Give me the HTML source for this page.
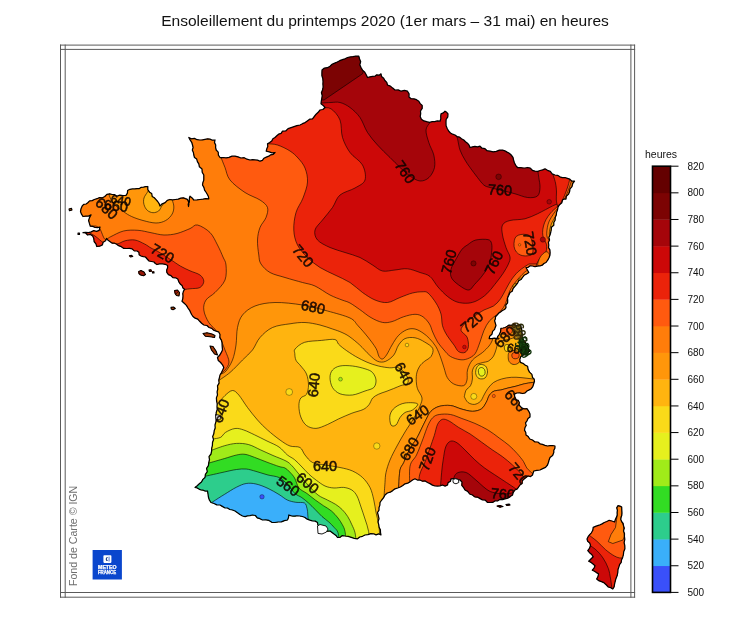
<!DOCTYPE html>
<html lang="fr"><head><meta charset="utf-8"><title>Ensoleillement du printemps 2020</title>
<style>
html,body{margin:0;padding:0;background:#fff;}
body{width:740px;height:618px;position:relative;overflow:hidden;font-family:"Liberation Sans",sans-serif;}
</style></head><body>
<svg width="740" height="618" viewBox="0 0 740 618" style="position:absolute;left:0;top:0">
<defs><clipPath id="fr"><path d="M80.5 211.6 L81.0 208.7 L82.2 206.0 L83.7 204.4 L86.1 204.0 L87.8 202.7 L89.6 200.9 L92.2 200.6 L94.3 199.5 L97.0 198.7 L99.5 197.6 L102.4 197.8 L104.8 196.5 L106.9 194.4 L109.7 193.8 L112.2 194.5 L114.8 194.7 L117.0 196.2 L119.9 195.2 L123.0 195.5 L126.0 195.4 L127.4 193.1 L127.6 190.5 L129.9 189.3 L132.4 188.9 L134.9 188.9 L137.1 188.6 L139.4 188.6 L141.3 187.3 L143.5 187.2 L145.6 186.6 L147.8 186.5 L147.8 189.6 L149.5 192.2 L151.7 193.5 L152.2 196.4 L154.3 197.8 L156.0 199.6 L157.7 201.5 L159.1 203.6 L160.0 206.0 L162.2 203.8 L165.2 202.6 L167.3 200.3 L169.9 199.5 L172.7 199.9 L175.4 199.5 L178.2 199.2 L180.8 198.1 L183.5 197.8 L185.4 198.6 L187.3 199.3 L188.5 201.6 L188.9 204.0 L188.5 206.5 L188.2 204.1 L189.4 201.9 L189.3 199.5 L189.5 197.8 L190.0 196.2 L192.1 197.9 L193.8 200.0 L196.9 199.9 L200.0 199.5 L202.9 199.2 L205.8 198.6 L208.8 198.8 L208.4 196.5 L207.4 194.5 L206.2 192.5 L204.6 190.2 L203.9 187.4 L202.5 185.0 L202.9 182.5 L203.8 180.1 L203.8 177.6 L203.8 175.0 L202.2 172.3 L202.0 169.0 L199.4 166.8 L198.8 163.8 L197.4 161.6 L196.7 159.1 L194.5 157.5 L193.8 155.0 L193.4 152.5 L192.3 150.1 L193.1 147.5 L192.5 145.0 L191.7 142.3 L190.1 139.9 L188.8 137.5 L191.4 138.8 L194.4 138.4 L197.1 139.7 L200.0 140.0 L202.5 139.8 L205.0 139.3 L207.5 138.8 L210.0 139.1 L212.4 140.2 L215.0 140.0 L214.5 142.6 L215.7 145.0 L215.6 147.5 L216.2 150.0 L218.2 152.1 L218.4 155.2 L220.0 157.5 L223.0 157.5 L226.1 157.9 L229.0 157.3 L232.0 156.1 L235.0 156.2 L238.0 156.8 L240.9 158.0 L244.2 157.7 L247.0 159.2 L250.0 160.0 L252.6 159.7 L255.1 159.9 L257.6 160.1 L260.0 161.2 L262.4 160.4 L264.0 158.2 L266.3 157.1 L268.8 156.2 L270.7 154.8 L273.3 154.3 L275.0 152.5 L272.0 152.8 L269.2 151.8 L266.2 151.2 L266.8 148.8 L267.8 146.4 L267.5 143.8 L269.7 142.6 L271.7 141.1 L272.9 138.8 L275.0 137.5 L276.8 135.8 L278.6 134.2 L281.1 133.3 L282.5 131.2 L285.7 131.0 L288.1 128.6 L291.1 127.6 L294.0 126.6 L296.9 125.6 L300.0 125.0 L302.5 123.7 L305.1 122.6 L307.3 120.9 L309.6 119.2 L312.5 118.8 L314.3 116.5 L316.1 114.2 L318.2 112.3 L320.0 110.0 L322.9 109.5 L325.0 107.5 L323.2 105.4 L321.0 103.8 L321.3 101.0 L321.8 98.3 L322.2 95.5 L321.4 92.7 L322.5 90.0 L323.1 87.1 L322.9 84.3 L323.0 81.4 L322.8 78.6 L321.9 75.7 L321.9 72.9 L322.0 70.0 L324.4 68.1 L327.4 67.7 L330.0 66.2 L332.1 64.3 L334.7 63.1 L337.3 62.0 L339.7 60.7 L342.4 59.7 L345.0 58.8 L347.6 57.5 L350.3 56.9 L353.1 56.6 L355.9 56.0 L358.8 56.2 L359.6 59.0 L360.7 61.7 L359.8 64.8 L361.0 67.5 L362.5 70.1 L364.8 72.2 L366.2 74.8 L367.5 77.5 L370.0 76.8 L372.5 76.4 L375.0 76.2 L376.7 74.8 L379.2 75.2 L381.0 73.8 L381.5 76.4 L383.7 78.2 L384.9 80.5 L386.8 82.4 L387.5 85.0 L390.4 86.1 L392.7 88.1 L395.0 90.0 L398.2 89.9 L401.2 91.2 L404.4 90.3 L407.5 91.2 L409.1 93.9 L409.0 97.0 L411.2 98.7 L414.0 98.8 L416.5 99.7 L418.8 101.2 L420.2 103.6 L422.2 105.4 L422.2 108.4 L420.5 111.0 L420.7 113.7 L420.2 116.6 L421.4 119.2 L423.9 120.9 L426.7 121.7 L429.5 122.4 L432.1 121.7 L434.7 121.6 L437.3 120.9 L440.0 121.2 L440.8 118.8 L440.7 116.3 L441.0 113.8 L443.3 112.9 L445.0 111.2 L446.7 112.3 L448.0 113.8 L447.8 116.8 L446.1 119.5 L446.0 122.5 L446.1 125.7 L447.2 128.5 L448.8 131.2 L450.5 133.0 L452.6 134.2 L455.0 135.0 L457.0 136.6 L459.6 137.1 L461.5 138.8 L463.8 140.0 L465.5 141.7 L467.5 143.2 L469.1 145.1 L470.0 147.5 L472.5 146.8 L474.9 146.4 L477.5 146.9 L480.0 146.2 L482.1 148.2 L485.0 148.7 L487.1 150.7 L490.0 151.2 L493.2 151.8 L496.3 151.4 L499.4 150.1 L502.5 150.0 L504.9 150.8 L507.1 152.1 L509.3 153.3 L511.2 155.0 L513.0 157.3 L513.6 160.1 L514.4 162.8 L515.7 165.3 L517.5 167.5 L520.0 167.5 L522.5 167.8 L525.0 168.0 L527.5 167.5 L530.3 168.1 L532.4 170.3 L535.0 171.2 L537.7 171.3 L540.1 170.5 L542.6 169.8 L545.0 168.8 L547.5 170.3 L550.3 171.4 L552.2 173.9 L555.0 175.0 L557.6 175.3 L559.9 176.8 L562.3 177.7 L565.0 177.5 L567.4 178.3 L569.8 179.2 L571.8 181.1 L574.5 181.2 L572.7 183.5 L572.0 186.6 L570.0 188.8 L569.6 191.6 L568.6 194.1 L566.3 196.2 L566.0 199.0 L564.1 199.0 L562.5 200.0 L561.8 202.8 L559.5 204.7 L558.0 207.1 L557.5 210.0 L556.5 212.4 L556.3 215.1 L555.2 217.5 L555.1 220.2 L553.8 222.5 L553.8 225.3 L551.4 227.3 L551.2 229.9 L550.7 232.5 L550.0 235.0 L548.9 237.4 L549.5 240.0 L548.4 242.4 L548.8 245.0 L548.5 247.6 L549.9 249.9 L550.1 252.4 L550.0 255.0 L549.0 257.7 L547.7 260.2 L546.0 262.5 L543.9 263.5 L542.2 265.2 L540.0 266.0 L537.5 266.1 L535.0 266.7 L532.5 266.0 L530.2 265.8 L528.2 267.3 L526.0 267.5 L527.4 270.0 L528.8 272.5 L526.6 274.0 L524.1 275.3 L522.5 277.5 L521.0 279.5 L518.7 280.8 L517.6 283.1 L516.0 285.0 L514.5 286.8 L513.0 288.7 L512.2 291.2 L510.0 292.5 L508.8 295.3 L507.5 298.0 L507.7 300.5 L507.6 302.9 L505.8 305.0 L506.0 307.5 L504.5 309.5 L502.4 310.5 L500.5 312.0 L498.6 313.3 L497.1 315.1 L495.5 316.8 L495.4 318.8 L494.6 320.7 L495.3 323.1 L496.0 325.5 L495.2 327.4 L494.6 329.4 L492.6 331.4 L491.9 334.3 L489.7 336.2 L489.2 338.6 L491.8 338.7 L494.4 338.1 L497.0 338.6 L497.8 336.3 L499.4 334.3 L500.6 331.5 L500.9 328.4 L503.1 328.0 L505.2 327.5 L507.2 326.3 L509.1 325.0 L511.6 325.3 L514.0 324.6 L516.2 325.5 L518.5 324.8 L520.8 325.0 L521.1 327.2 L521.7 329.4 L521.9 331.8 L522.2 334.2 L522.1 336.6 L522.7 339.0 L524.2 340.9 L525.6 343.0 L527.1 344.9 L528.5 346.9 L528.5 349.1 L530.0 350.8 L528.0 352.5 L526.6 354.7 L523.5 355.0 L520.8 356.6 L519.8 359.4 L520.3 362.4 L522.9 363.3 L525.1 365.1 L527.6 366.3 L528.1 369.4 L529.5 372.1 L531.9 374.4 L532.5 377.5 L534.1 378.9 L534.5 381.0 L533.7 383.8 L532.8 386.6 L531.3 388.7 L529.2 389.9 L527.0 391.0 L525.2 392.9 L522.7 393.5 L519.8 392.9 L516.8 393.0 L514.7 393.8 L514.5 396.1 L515.4 398.2 L516.4 399.9 L518.3 400.4 L519.3 402.5 L519.0 404.7 L520.6 406.8 L522.7 408.4 L524.8 408.8 L527.0 408.7 L528.8 411.3 L530.0 414.0 L530.0 417.0 L528.0 418.5 L527.0 420.8 L525.5 422.8 L526.2 425.4 L525.0 427.5 L524.5 430.1 L525.8 432.5 L526.0 435.0 L528.2 436.6 L529.8 439.0 L532.5 440.0 L534.7 441.8 L537.8 442.0 L540.0 443.8 L542.5 444.4 L545.0 445.3 L547.5 446.0 L550.0 445.7 L552.5 445.5 L555.0 446.0 L554.9 448.2 L553.8 450.3 L553.8 452.5 L552.6 455.5 L550.0 457.5 L549.1 460.0 L548.4 462.5 L547.5 465.0 L545.5 467.4 L542.7 468.6 L540.0 470.0 L536.8 470.3 L533.8 471.0 L533.1 473.0 L532.5 475.0 L530.6 476.6 L527.9 475.9 L526.0 477.5 L524.1 479.1 L522.3 480.7 L522.1 483.6 L520.0 485.0 L518.6 487.0 L517.3 488.9 L515.0 490.0 L513.3 492.3 L512.5 495.0 L510.2 496.6 L507.8 498.1 L505.0 498.8 L502.5 499.6 L499.8 499.5 L497.5 501.0 L494.9 500.9 L492.6 502.4 L490.0 502.5 L487.3 502.3 L485.2 500.1 L482.5 500.0 L480.1 498.6 L477.7 497.2 L474.7 496.9 L472.5 495.0 L469.6 494.0 L467.7 491.4 L465.0 490.0 L463.6 487.6 L461.8 485.3 L462.0 482.1 L460.0 480.0 L457.0 479.3 L454.1 478.6 L451.0 478.8 L450.5 481.2 L448.1 482.6 L447.5 485.0 L445.1 486.1 L442.4 485.0 L440.0 486.0 L437.5 486.1 L435.0 486.0 L432.4 485.1 L430.0 483.6 L427.5 482.5 L425.2 480.9 L422.4 481.2 L420.0 480.0 L417.3 480.0 L415.0 478.8 L412.5 480.0 L410.2 481.7 L407.8 483.1 L405.0 483.8 L402.8 485.5 L400.4 487.0 L397.7 488.0 L395.0 488.8 L392.7 490.6 L390.2 492.2 L387.3 493.0 L385.0 495.0 L383.6 497.7 L381.7 500.0 L380.0 502.5 L379.9 505.1 L379.0 507.6 L379.0 510.2 L377.5 512.5 L378.3 515.6 L379.0 518.7 L378.0 521.9 L378.8 525.0 L379.2 527.5 L380.4 529.9 L380.5 532.5 L381.0 535.0 L378.7 533.8 L376.0 534.9 L373.8 533.8 L370.8 533.6 L367.9 534.7 L365.0 535.0 L362.5 536.3 L359.7 537.0 L357.5 538.8 L354.3 538.3 L351.3 537.4 L348.2 536.4 L345.0 536.0 L342.3 535.6 L340.1 537.3 L337.5 537.5 L336.0 535.4 L334.0 534.0 L332.0 532.4 L330.0 531.0 L327.3 531.2 L324.7 531.3 L322.0 531.0 L320.2 529.3 L319.2 527.1 L317.9 525.0 L317.5 522.5 L315.2 521.1 L312.3 520.9 L309.8 520.1 L307.2 519.2 L305.0 517.5 L302.4 516.5 L299.7 516.0 L296.9 515.9 L294.1 516.2 L291.4 515.9 L288.8 515.0 L288.5 517.6 L287.5 520.0 L284.4 520.7 L281.4 521.9 L278.1 522.0 L275.0 522.5 L271.8 522.3 L268.9 520.4 L265.8 519.8 L262.5 520.0 L260.0 518.7 L257.3 517.9 L255.4 515.5 L252.5 515.0 L250.0 515.6 L247.5 515.8 L245.1 516.6 L242.5 516.0 L239.9 514.5 L237.5 512.7 L235.0 511.0 L232.5 510.0 L229.8 509.5 L227.5 508.0 L224.7 507.8 L222.3 506.4 L220.0 505.0 L216.8 504.9 L214.0 503.5 L211.0 502.5 L209.3 499.9 L208.4 497.0 L208.0 494.0 L207.5 491.0 L205.3 491.1 L203.2 490.2 L201.0 490.0 L199.0 489.1 L197.2 487.9 L195.0 487.5 L197.2 485.7 L199.3 483.8 L201.5 482.0 L202.9 479.4 L205.0 477.5 L205.4 474.4 L207.3 471.7 L206.6 468.3 L208.4 465.6 L208.8 462.5 L209.5 459.7 L209.0 456.6 L211.0 454.0 L211.6 451.2 L211.7 448.3 L212.4 445.4 L212.5 442.5 L213.5 439.7 L212.7 436.6 L213.8 433.8 L214.2 430.8 L215.2 428.0 L215.0 425.0 L215.9 421.9 L216.2 418.8 L216.1 415.6 L216.2 412.5 L217.2 409.6 L217.0 406.7 L217.2 403.8 L216.6 400.8 L216.4 397.9 L217.5 395.0 L217.1 391.9 L217.8 389.0 L217.5 385.9 L219.1 383.1 L218.8 380.0 L219.5 377.5 L220.0 375.0 L221.5 372.6 L222.7 370.1 L223.8 367.5 L222.5 364.8 L220.6 362.5 L218.3 360.5 L217.5 357.5 L219.6 355.3 L221.2 352.7 L222.5 350.0 L222.3 347.6 L222.1 345.1 L222.0 342.7 L221.5 340.3 L219.8 337.7 L220.0 334.5 L218.6 331.8 L216.1 331.1 L213.7 330.2 L211.8 328.4 L209.1 327.5 L206.9 325.5 L203.9 325.0 L201.6 323.3 L199.7 321.3 L197.8 319.2 L195.1 318.2 L193.0 316.5 L191.6 314.5 L190.5 312.3 L189.5 310.0 L188.0 308.0 L186.4 305.4 L184.2 303.3 L182.0 301.2 L182.8 298.6 L183.0 296.0 L182.8 293.6 L183.4 291.4 L184.6 289.3 L182.9 287.9 L182.1 285.6 L180.4 284.2 L178.8 281.8 L177.8 279.0 L175.6 277.8 L172.9 277.6 L171.0 275.7 L168.4 274.6 L166.8 272.3 L166.7 270.0 L167.6 267.8 L167.6 265.5 L165.2 264.3 L162.5 263.8 L159.7 263.8 L157.0 264.5 L155.3 263.5 L154.0 262.0 L151.5 261.5 L149.0 261.0 L147.2 259.0 L145.5 257.0 L143.2 256.6 L141.0 256.0 L139.1 254.8 L138.9 252.2 L137.0 251.0 L134.3 250.9 L132.1 248.9 L129.5 248.4 L126.8 248.5 L123.8 248.4 L121.3 246.7 L118.6 245.7 L116.7 244.3 L114.6 243.2 L112.2 243.2 L110.2 241.7 L108.1 240.3 L106.5 238.4 L105.6 240.8 L103.1 242.3 L102.4 244.9 L99.7 246.2 L96.8 246.5 L95.9 243.8 L94.1 241.5 L93.8 238.6 L92.7 236.0 L90.5 234.4 L87.6 235.0 L85.6 233.0 L83.0 232.7 L85.7 232.3 L88.5 232.6 L91.2 231.9 L93.7 230.6 L96.6 231.4 L99.2 230.3 L99.6 228.6 L100.0 227.0 L97.5 227.7 L95.1 227.5 L92.7 226.4 L90.3 226.2 L89.4 223.4 L88.6 220.5 L89.5 217.6 L91.0 214.9 L88.5 216.1 L85.7 216.2 L83.0 216.5 L81.5 214.2 Z M618.0 505.7 L620.0 506.1 L621.7 507.0 L621.8 510.0 L622.0 513.0 L621.8 515.2 L621.1 517.2 L620.8 519.4 L621.6 521.5 L623.1 523.3 L623.5 525.6 L624.3 528.2 L623.5 531.0 L624.5 533.6 L624.4 536.3 L624.8 539.4 L624.1 542.6 L624.8 545.7 L624.9 548.8 L623.7 551.7 L623.4 554.7 L622.6 557.7 L621.5 559.9 L621.2 562.3 L619.7 564.3 L619.0 566.6 L618.0 569.5 L617.8 572.5 L617.2 575.5 L616.0 578.4 L615.2 581.4 L614.5 584.4 L614.1 586.9 L612.8 589.0 L610.7 587.7 L608.3 587.0 L606.2 584.8 L603.9 582.7 L601.4 581.7 L598.8 580.7 L596.7 579.0 L598.0 576.5 L598.5 573.8 L596.4 572.6 L594.5 571.2 L592.3 570.2 L594.0 568.2 L595.0 565.7 L593.0 564.0 L591.1 562.4 L588.7 561.3 L590.9 559.0 L593.2 556.8 L591.7 554.5 L589.5 552.7 L587.8 550.6 L589.6 548.1 L590.5 545.2 L589.7 542.9 L587.7 541.3 L587.0 539.0 L588.1 536.7 L589.7 534.7 L591.4 532.8 L592.8 530.3 L593.2 527.4 L596.1 526.2 L599.1 525.2 L602.0 523.9 L604.3 522.5 L606.8 521.5 L609.2 520.3 L611.9 521.0 L614.6 522.0 L615.3 519.6 L616.4 517.4 L617.2 515.0 L617.1 512.6 L617.4 510.2 L616.7 507.8 Z M69.0 209.0 L71.5 208.3 L72.0 210.0 L69.5 210.8 Z M138.7 271.5 L141.0 270.6 L144.0 272.0 L145.5 274.5 L143.5 275.7 L140.5 275.0 L138.9 273.5 Z M129.4 255.8 L131.5 255.3 L132.8 256.5 L130.5 257.0 Z M149.0 270.0 L151.0 269.8 L151.5 271.2 L149.5 271.5 Z M152.5 271.8 L154.0 271.8 L154.0 273.0 L152.5 273.0 Z M174.6 290.5 L177.5 290.0 L179.5 292.5 L179.0 296.0 L176.5 295.5 L175.0 293.5 Z M171.0 307.2 L173.5 307.0 L175.3 308.5 L173.0 309.7 L171.2 309.0 Z M203.0 333.5 L207.0 332.7 L212.0 334.0 L215.0 335.5 L214.5 337.5 L210.0 336.8 L205.5 336.3 Z M210.0 346.0 L213.0 346.5 L216.0 351.0 L217.5 355.0 L214.5 354.0 L211.5 350.0 Z M78.0 233.0 L79.5 233.0 L79.5 234.5 L78.0 234.5 Z M497.0 506.0 L500.0 505.5 L503.0 506.5 L500.0 507.3 Z M506.0 504.5 L509.0 504.0 L510.0 505.0 L507.0 505.5 Z"/></clipPath></defs>
<g clip-path="url(#fr)" stroke="#000" stroke-opacity="0.85" stroke-width="0.7" stroke-linejoin="round">
<rect x="0" y="0" width="740" height="618" fill="rgb(204,8,8)" stroke="none"/>
<path d="M322.0 108.0 C323.5 108.1 328.0 106.8 331.0 108.8 C334.0 110.8 338.1 115.2 340.0 120.0 C341.9 124.8 340.8 132.1 342.5 137.5 C344.2 142.9 346.7 147.9 350.0 152.5 C353.3 157.1 360.0 160.4 362.5 165.0 C365.0 169.6 366.2 176.2 365.0 180.0 C363.8 183.8 359.2 185.5 355.0 188.0 C350.8 190.5 343.8 191.8 340.0 195.0 C336.2 198.2 335.4 203.3 332.5 207.5 C329.6 211.7 325.4 216.2 322.5 220.0 C319.6 223.8 315.8 226.7 315.0 230.0 C314.2 233.3 315.0 237.1 317.5 240.0 C320.0 242.9 325.4 245.4 330.0 247.5 C334.6 249.6 340.0 250.8 345.0 252.5 C350.0 254.2 355.4 255.4 360.0 257.5 C364.6 259.6 368.8 262.8 372.5 265.0 C376.2 267.2 378.8 270.2 382.5 271.0 C386.2 271.8 390.8 270.4 395.0 270.0 C399.2 269.6 403.3 268.3 407.5 268.8 C411.7 269.2 416.2 271.2 420.0 272.5 C423.8 273.8 427.0 274.1 430.0 276.5 C433.0 278.9 435.1 283.7 438.0 287.0 C440.9 290.3 444.4 294.0 447.6 296.5 C450.8 299.0 453.6 300.9 457.0 302.0 C460.4 303.1 464.4 303.4 467.8 303.2 C471.2 302.9 474.1 302.1 477.3 300.5 C480.5 298.9 483.9 296.5 486.8 293.8 C489.7 291.1 492.2 287.7 494.9 284.3 C497.6 280.9 500.8 276.9 503.0 273.5 C505.2 270.1 507.2 266.8 508.4 264.0 C509.6 261.2 510.4 259.8 510.0 257.0 C509.6 254.2 507.2 251.2 506.0 247.5 C504.8 243.8 503.1 238.8 502.5 235.0 C501.9 231.2 501.2 227.4 502.5 225.0 C503.8 222.6 506.2 221.5 510.0 220.5 C513.8 219.5 520.4 219.9 525.0 218.8 C529.6 217.6 532.9 215.9 537.5 213.8 C542.1 211.6 548.8 207.8 552.5 206.0 C556.2 204.2 558.8 203.5 560.0 203.0 L700.0 205.0 L700.0 680.0 L-20.0 680.0 L-20.0 104.0 L318.0 104.0 Z" fill="rgb(235,35,10)"/>
<path d="M268.0 143.8 C269.6 144.0 273.8 143.8 277.5 145.0 C281.2 146.2 286.6 148.8 290.0 151.0 C293.4 153.2 295.5 155.2 298.0 158.0 C300.5 160.8 303.4 164.0 305.0 168.0 C306.6 172.0 307.8 177.0 307.5 182.0 C307.2 187.0 304.9 192.9 303.0 198.0 C301.1 203.1 297.5 207.2 296.0 212.5 C294.5 217.8 293.5 224.6 293.8 230.0 C294.0 235.4 295.2 240.4 297.5 245.0 C299.8 249.6 303.8 253.8 307.5 257.5 C311.2 261.2 315.4 264.6 320.0 267.5 C324.6 270.4 330.0 272.5 335.0 275.0 C340.0 277.5 345.4 279.6 350.0 282.5 C354.6 285.4 358.3 289.6 362.5 292.5 C366.7 295.4 370.8 298.3 375.0 300.0 C379.2 301.7 383.3 302.9 387.5 302.5 C391.7 302.1 395.8 299.1 400.0 297.5 C404.2 295.9 408.8 293.9 412.5 293.0 C416.2 292.1 419.4 291.8 422.0 291.8 C424.6 291.8 425.7 291.1 428.0 293.0 C430.3 294.9 433.8 299.5 436.0 303.0 C438.2 306.5 439.9 310.2 441.0 314.0 C442.1 317.8 441.5 322.1 442.5 325.7 C443.5 329.3 445.1 332.2 447.0 335.4 C448.9 338.6 452.1 342.3 454.0 345.0 C455.9 347.7 456.8 350.4 458.6 351.6 C460.4 352.8 463.4 353.2 465.0 352.4 C466.6 351.6 468.1 349.3 468.4 346.7 C468.7 344.1 468.2 339.7 467.0 337.0 C465.8 334.3 461.3 332.6 461.0 330.3 C460.7 328.1 463.0 325.7 465.0 323.5 C467.0 321.3 470.0 319.2 473.2 317.0 C476.4 314.8 480.6 311.8 484.0 310.0 C487.4 308.2 490.8 307.8 493.5 306.0 C496.2 304.2 498.3 301.9 500.3 299.2 C502.3 296.5 503.9 292.8 505.7 289.7 C507.5 286.6 509.0 283.2 511.0 280.3 C513.0 277.4 515.5 274.2 517.8 272.0 C520.1 269.8 522.7 268.1 524.6 266.8 C526.5 265.5 528.3 264.5 529.0 264.0 L700.0 264.0 L700.0 680.0 L-20.0 680.0 L-20.0 143.0 L262.0 143.0 Z" fill="rgb(255,90,15)"/>
<path d="M221.0 157.5 C221.7 159.2 223.5 163.8 225.0 167.5 C226.5 171.2 226.7 175.8 230.0 180.0 C233.3 184.2 240.0 189.2 245.0 192.5 C250.0 195.8 256.2 197.5 260.0 200.0 C263.8 202.5 266.5 204.6 267.5 207.5 C268.5 210.4 267.2 214.2 266.0 217.5 C264.8 220.8 261.4 223.8 260.0 227.5 C258.6 231.2 257.7 235.4 257.5 240.0 C257.3 244.6 258.2 251.0 258.8 255.0 C259.3 259.0 259.1 261.1 261.0 264.0 C262.9 266.9 266.0 270.2 270.0 272.5 C274.0 274.8 279.6 275.8 285.0 277.5 C290.4 279.2 297.5 281.1 302.5 282.5 C307.5 283.9 310.4 283.9 315.0 286.0 C319.6 288.1 325.5 292.7 330.0 295.0 C334.5 297.3 338.7 298.7 342.0 300.0 C345.3 301.3 347.1 301.4 350.0 303.0 C352.9 304.6 356.2 307.1 359.7 309.5 C363.2 311.9 367.2 315.5 371.0 317.6 C374.8 319.8 378.9 321.7 382.4 322.4 C385.9 323.1 388.5 322.5 392.0 321.6 C395.5 320.7 399.7 318.0 403.5 316.8 C407.3 315.6 411.8 314.3 415.0 314.3 C418.2 314.3 420.6 315.2 423.0 316.8 C425.4 318.4 427.9 321.5 429.5 324.0 C431.1 326.5 431.3 329.0 432.7 332.0 C434.1 335.0 435.7 339.0 437.6 342.0 C439.5 345.0 441.9 347.6 444.0 350.0 C446.1 352.4 447.8 354.9 450.5 356.5 C453.2 358.1 457.2 359.3 460.0 359.7 C462.8 360.1 465.0 359.7 467.5 358.8 C470.0 357.8 472.9 356.5 475.0 353.8 C477.1 351.0 478.5 345.9 480.0 342.0 C481.5 338.1 482.4 333.8 484.0 330.3 C485.6 326.8 487.2 323.5 489.5 320.8 C491.8 318.1 495.2 316.2 497.6 314.0 C500.0 311.8 502.0 309.8 503.6 307.3 C505.2 304.8 506.0 301.9 507.0 299.2 C508.0 296.5 508.6 293.5 509.7 291.0 C510.8 288.5 512.2 286.5 513.8 284.3 C515.4 282.1 517.4 279.6 519.2 277.6 C521.0 275.6 523.0 273.6 524.6 272.2 C526.2 270.8 527.2 270.4 528.6 269.5 C530.0 268.6 532.3 267.4 533.0 267.0 L700.0 267.0 L700.0 680.0 L-20.0 680.0 L-20.0 100.0 L225.0 100.0 L225.0 150.0 Z" fill="rgb(255,125,10)"/>
<path d="M221.0 374.0 C221.8 373.5 224.1 373.3 226.0 371.0 C227.9 368.7 230.8 364.3 232.5 360.0 C234.2 355.7 235.2 350.4 236.0 345.0 C236.8 339.6 236.4 332.5 237.5 327.5 C238.6 322.5 239.6 318.6 242.5 315.0 C245.4 311.4 249.6 308.1 255.0 306.0 C260.4 303.9 267.1 302.7 275.0 302.5 C282.9 302.3 293.8 303.6 302.5 305.0 C311.2 306.4 319.6 308.8 327.5 311.0 C335.4 313.2 344.9 315.6 350.0 318.0 C355.1 320.4 355.0 322.5 358.0 325.7 C361.0 328.9 364.8 333.2 367.8 337.0 C370.8 340.8 374.1 345.1 376.0 348.4 C377.9 351.6 377.9 354.7 379.0 356.5 C380.1 358.3 381.1 359.2 382.4 359.0 C383.6 358.8 384.9 357.3 386.5 355.0 C388.1 352.7 390.0 348.3 392.0 345.0 C394.0 341.7 396.1 337.9 398.6 335.4 C401.1 332.8 404.1 330.8 406.8 329.7 C409.5 328.6 412.3 328.4 415.0 329.0 C417.7 329.6 420.6 331.4 423.0 333.0 C425.4 334.6 427.3 336.3 429.5 338.6 C431.7 340.9 434.1 343.6 436.0 346.8 C437.9 350.0 439.5 354.5 440.8 358.0 C442.1 361.5 442.9 364.5 444.0 367.8 C445.1 371.1 445.7 374.9 447.3 377.6 C448.9 380.3 451.1 382.6 453.8 384.0 C456.5 385.4 461.3 386.4 463.5 385.7 C465.7 385.0 466.3 382.6 467.0 380.0 C467.7 377.4 466.6 373.3 467.5 370.0 C468.4 366.7 470.0 362.9 472.5 360.0 C475.0 357.1 479.8 354.8 482.5 352.5 C485.2 350.2 487.4 347.9 489.0 346.0 C490.6 344.1 491.3 342.4 492.0 341.0 C492.7 339.6 492.8 338.1 493.0 337.5 L495.5 333.0 L497.5 326.0 L499.0 318.0 L700.0 318.0 L700.0 381.5 L540.0 381.5 C538.7 381.7 535.0 382.1 532.4 382.5 C529.8 382.9 527.0 383.2 524.3 383.8 C521.6 384.4 518.7 385.5 516.0 386.2 C513.3 386.9 510.5 387.4 508.0 388.0 C505.5 388.6 503.1 389.5 500.8 390.0 C498.5 390.5 496.2 390.2 494.3 391.0 C492.4 391.8 490.9 393.1 489.5 395.0 C488.1 396.9 487.6 400.1 486.2 402.4 C484.8 404.7 483.7 407.4 481.4 408.9 C479.1 410.4 475.8 411.3 472.4 411.3 C469.0 411.3 464.6 409.9 461.0 408.9 C457.4 407.9 454.1 405.9 450.5 405.5 C446.9 405.1 442.4 405.4 439.2 406.4 C435.9 407.3 433.2 409.0 431.0 411.2 C428.8 413.4 427.8 416.3 426.2 419.3 C424.6 422.3 423.0 425.8 421.4 429.0 C419.8 432.2 418.4 435.6 416.5 438.8 C414.6 442.1 412.1 444.6 410.0 448.5 C407.9 452.4 405.4 458.9 403.8 462.5 C402.1 466.1 400.8 466.2 400.0 470.0 C399.2 473.8 399.1 480.8 398.8 485.0 C398.4 489.2 398.1 493.3 398.0 495.0 L398 680 L-20 680 L-20 374 Z" fill="rgb(255,150,10)"/>
<path d="M218.0 381.0 C220.0 379.6 225.9 376.0 230.0 372.5 C234.1 369.0 238.8 363.8 242.5 360.0 C246.2 356.2 249.6 353.8 252.5 350.0 C255.4 346.2 256.7 341.2 260.0 337.5 C263.3 333.8 267.5 329.8 272.5 327.5 C277.5 325.2 284.6 324.6 290.0 323.8 C295.4 322.9 300.0 322.3 305.0 322.5 C310.0 322.7 315.4 323.9 320.0 325.0 C324.6 326.1 328.8 327.8 332.5 329.0 C336.2 330.2 339.1 331.2 342.0 332.5 C344.9 333.8 347.1 334.9 350.0 337.0 C352.9 339.1 356.4 342.0 359.7 345.0 C362.9 348.0 366.5 352.3 369.5 355.0 C372.5 357.7 374.9 360.2 377.6 361.3 C380.3 362.4 383.0 362.4 385.7 361.3 C388.4 360.2 391.6 357.7 393.8 355.0 C396.0 352.3 396.7 347.7 398.6 345.0 C400.5 342.3 402.3 339.8 405.0 338.6 C407.7 337.4 411.7 337.2 415.0 337.8 C418.3 338.4 421.7 340.2 424.6 342.0 C427.6 343.8 431.6 346.0 432.7 348.4 C433.8 350.8 432.4 354.4 431.0 356.5 C429.6 358.6 426.5 359.7 424.6 361.3 C422.7 362.9 421.1 364.0 419.7 366.2 C418.3 368.4 417.0 371.3 416.5 374.3 C416.0 377.3 416.2 381.4 416.5 384.0 C416.8 386.6 417.1 387.7 418.0 390.0 C418.9 392.3 421.7 395.3 422.0 398.0 C422.3 400.7 421.3 402.7 420.0 406.0 C418.7 409.3 416.5 413.7 414.0 418.0 C411.5 422.3 407.8 427.3 405.0 432.0 C402.2 436.7 399.5 441.3 397.0 446.0 C394.5 450.7 391.8 455.6 390.0 460.0 C388.2 464.4 386.8 468.8 386.0 472.5 C385.2 476.2 385.3 478.4 385.0 482.5 C384.7 486.6 384.2 494.6 384.0 497.0 L384.0 680.0 L-20.0 680.0 L-20.0 381.0 Z" fill="rgb(255,180,15)"/>
<path d="M464.3 396.8 C464.6 395.7 465.0 392.2 466.0 390.3 C467.0 388.4 469.4 387.6 470.5 385.7 C471.6 383.8 472.1 381.5 472.4 379.0 C472.7 376.5 471.8 373.1 472.4 370.8 C472.9 368.5 474.1 366.4 475.7 365.0 C477.3 363.6 480.0 363.4 482.2 362.7 C484.4 362.0 486.7 362.1 488.6 361.0 C490.5 359.9 492.3 358.1 493.5 356.2 C494.7 354.3 495.2 351.8 496.0 349.7 C496.8 347.6 496.8 345.0 498.0 343.5 C499.2 342.0 501.0 341.2 503.0 340.5 C505.0 339.8 507.8 339.6 510.0 339.0 C512.2 338.4 513.7 337.7 516.0 337.0 C518.3 336.3 522.7 335.3 524.0 335.0 L560 335 L560 380 L545.0 380.0 C543.0 379.8 537.2 379.4 533.2 379.0 C529.2 378.6 524.6 377.9 521.0 377.6 C517.4 377.3 514.6 377.1 511.4 377.3 C508.2 377.5 504.6 378.1 501.6 379.0 C498.6 379.9 495.8 380.9 493.5 382.5 C491.2 384.1 489.4 386.5 487.8 388.6 C486.2 390.7 485.2 392.9 484.0 395.0 C482.8 397.1 482.1 399.7 480.5 401.3 C478.9 402.9 476.5 404.2 474.4 404.4 C472.3 404.6 469.6 403.7 467.9 402.4 C466.2 401.1 464.9 397.7 464.3 396.8 Z" fill="rgb(255,180,15)"/>
<path d="M295.1 349.0 C296.7 347.1 300.2 343.7 304.6 342.3 C309.0 340.9 316.6 340.9 321.6 340.4 C326.7 339.9 332.1 338.9 334.9 339.5 C337.7 340.1 337.0 342.6 338.6 344.2 C340.2 345.8 341.5 346.9 344.3 349.0 C347.1 351.1 351.9 354.3 355.7 356.5 C359.5 358.7 363.2 360.6 367.0 362.2 C370.8 363.8 374.6 365.1 378.4 366.0 C382.2 366.9 386.5 367.6 389.7 367.8 C392.9 368.1 394.9 366.8 397.3 367.5 C399.7 368.2 402.2 370.1 404.0 372.0 C405.8 373.9 407.5 377.0 408.0 379.0 C408.5 381.0 408.2 382.9 407.0 384.0 C405.8 385.1 403.2 384.7 401.0 385.5 C398.8 386.3 396.0 387.6 393.5 388.6 C391.0 389.6 388.5 390.6 386.0 391.5 C383.5 392.4 380.6 393.2 378.4 394.3 C376.2 395.4 374.3 396.3 372.7 398.0 C371.1 399.7 370.6 402.8 369.0 404.7 C367.4 406.6 366.1 408.1 363.2 409.5 C360.3 410.9 356.0 411.6 351.9 413.2 C347.8 414.8 342.7 417.0 338.6 418.9 C334.5 420.8 331.1 423.0 327.3 424.6 C323.5 426.2 319.5 428.2 316.0 428.4 C312.5 428.5 309.0 427.4 306.5 425.5 C304.0 423.6 302.1 420.3 300.8 417.0 C299.5 413.7 298.9 408.9 298.9 405.7 C298.9 402.5 299.5 399.9 300.8 398.0 C302.1 396.1 305.2 396.5 306.5 394.3 C307.8 392.1 308.5 388.4 308.5 385.0 C308.5 381.6 307.8 377.2 306.5 374.0 C305.2 370.8 302.6 368.3 300.8 366.0 C299.1 363.7 297.0 362.4 296.0 360.3 C295.0 358.2 294.9 355.5 294.8 353.6 C294.7 351.7 293.5 350.9 295.1 349.0 Z" fill="rgb(250,218,25)"/>
<path d="M330.0 377.5 C330.0 374.6 330.8 371.9 332.5 370.0 C334.2 368.1 336.7 366.7 340.0 366.0 C343.3 365.3 348.3 365.5 352.5 366.0 C356.7 366.5 361.7 367.7 365.0 368.8 C368.3 369.8 370.7 370.6 372.5 372.5 C374.3 374.4 375.8 377.5 376.0 380.0 C376.2 382.5 375.6 385.7 373.8 387.5 C371.9 389.3 368.5 389.8 365.0 391.0 C361.5 392.2 356.7 394.5 352.5 395.0 C348.3 395.5 343.3 395.0 340.0 393.8 C336.7 392.5 334.2 390.2 332.5 387.5 C330.8 384.8 330.0 380.4 330.0 377.5 Z" fill="rgb(230,240,30)"/>
<path d="M499.9 329.4 C500.2 328.4 500.8 327.1 502.3 326.5 C503.8 325.9 507.5 325.3 509.1 325.5 C510.7 325.7 511.5 326.4 512.0 327.5 C512.5 328.6 512.6 331.0 512.0 332.3 C511.4 333.6 509.6 334.9 508.2 335.2 C506.8 335.5 504.6 334.8 503.3 334.3 C502.0 333.8 501.0 333.1 500.4 332.3 C499.8 331.5 499.6 330.4 499.9 329.4 Z" fill="rgb(255,90,15)"/>
<path d="M508.2 356.6 C508.2 358.1 508.3 360.2 509.1 361.5 C509.9 362.8 511.5 364.1 513.0 364.4 C514.5 364.7 516.5 364.4 517.9 363.4 C519.3 362.4 521.0 360.3 521.5 358.5 C522.0 356.7 522.4 353.8 521.0 352.5 C519.6 351.2 515.0 350.5 513.0 350.5 C511.0 350.5 509.8 351.5 509.0 352.5 C508.2 353.5 508.2 355.1 508.2 356.6 Z" fill="rgb(255,125,10)"/>
<path d="M512.0 354.0 C512.5 353.1 513.9 352.4 515.0 352.3 C516.1 352.2 518.2 352.6 518.8 353.5 C519.4 354.4 519.1 356.6 518.5 357.5 C517.9 358.4 516.0 358.8 515.0 358.8 C514.0 358.8 512.8 358.3 512.3 357.5 C511.8 356.7 511.6 354.9 512.0 354.0 Z" fill="rgb(255,90,15)"/>
<path d="M391.0 425.0 C390.0 423.3 389.3 417.9 390.0 415.0 C390.7 412.1 392.5 409.5 395.0 407.5 C397.5 405.5 401.2 403.6 405.0 403.0 C408.8 402.4 416.2 402.6 417.5 403.8 C418.8 404.9 414.6 408.5 412.5 410.0 C410.4 411.5 407.1 411.2 405.0 412.5 C402.9 413.8 401.5 415.4 400.0 417.5 C398.5 419.6 397.5 423.8 396.0 425.0 C394.5 426.2 392.0 426.7 391.0 425.0 Z" fill="rgb(250,218,25)"/>
<path d="M476.5 368.0 C477.2 366.4 478.5 364.8 480.0 364.5 C481.5 364.2 484.2 364.8 485.5 366.0 C486.8 367.2 487.6 370.0 487.5 372.0 C487.4 374.0 486.4 376.9 485.0 378.0 C483.6 379.1 480.5 379.2 479.0 378.5 C477.5 377.8 476.2 375.8 475.8 374.0 C475.4 372.2 475.8 369.6 476.5 368.0 Z" fill="rgb(250,218,25)"/>
<path d="M478.5 369.5 C478.9 368.2 480.5 367.5 481.5 367.5 C482.5 367.5 483.9 368.5 484.5 369.5 C485.1 370.5 485.3 372.4 485.0 373.5 C484.7 374.6 483.4 375.8 482.5 376.0 C481.6 376.2 480.0 376.1 479.3 375.0 C478.6 373.9 478.1 370.8 478.5 369.5 Z" fill="rgb(230,240,30)"/>
<path d="M504.5 346.0 C504.9 345.1 506.1 344.5 507.0 344.5 C507.9 344.5 509.5 345.1 510.0 346.0 C510.5 346.9 510.5 349.1 510.0 350.0 C509.5 350.9 507.9 351.5 507.0 351.5 C506.1 351.5 505.2 350.9 504.8 350.0 C504.4 349.1 504.1 346.9 504.5 346.0 Z" fill="rgb(250,218,25)"/>
<path d="M214.0 407.0 C214.7 406.4 216.2 405.4 218.0 403.5 C219.8 401.6 222.6 397.7 225.0 395.5 C227.4 393.3 230.2 390.6 232.5 390.5 C234.8 390.4 236.2 392.2 238.8 395.0 C241.2 397.8 244.4 403.3 247.5 407.5 C250.6 411.7 254.2 416.2 257.5 420.0 C260.8 423.8 263.8 426.7 267.5 430.0 C271.2 433.3 276.2 437.3 280.0 440.0 C283.8 442.7 286.7 444.8 290.0 446.0 C293.3 447.2 297.5 446.0 300.0 447.5 C302.5 449.0 302.9 452.5 305.0 455.0 C307.1 457.5 309.2 460.8 312.5 462.5 C315.8 464.2 320.4 464.2 325.0 465.0 C329.6 465.8 335.4 466.5 340.0 467.5 C344.6 468.5 348.8 469.3 352.5 471.0 C356.2 472.7 359.6 474.8 362.5 477.5 C365.4 480.2 368.1 483.8 370.0 487.5 C371.9 491.2 372.8 495.8 373.8 500.0 C374.8 504.2 375.2 508.3 376.0 512.5 C376.8 516.7 378.1 520.4 378.8 525.0 C379.4 529.6 379.8 537.5 380.0 540.0 L380.0 680.0 L-20.0 680.0 L-20.0 407.0 Z" fill="rgb(250,218,25)"/>
<path d="M213.0 439.0 C214.3 438.7 218.6 438.4 220.7 437.3 C222.8 436.2 223.1 433.9 225.5 432.4 C227.9 430.9 231.9 428.9 235.0 428.5 C238.1 428.1 240.5 428.9 243.8 430.0 C247.1 431.1 250.8 433.1 254.7 434.9 C258.6 436.7 262.9 439.0 267.0 441.0 C271.1 443.0 275.6 444.7 279.0 447.0 C282.4 449.3 284.7 452.8 287.3 454.9 C289.9 457.0 292.2 457.7 294.6 459.7 C297.1 461.7 299.6 464.6 302.0 467.0 C304.4 469.4 306.6 472.1 309.0 474.3 C311.4 476.5 313.8 478.4 316.5 480.4 C319.2 482.3 322.1 484.7 325.0 486.0 C327.9 487.3 330.9 487.8 334.0 488.0 C337.1 488.2 340.6 487.1 343.6 487.4 C346.6 487.7 349.6 488.6 351.8 490.0 C354.0 491.4 355.5 493.2 357.0 496.0 C358.5 498.8 359.7 503.2 361.0 507.0 C362.3 510.8 363.7 514.9 365.0 519.0 C366.3 523.1 367.9 527.1 368.6 531.4 C369.4 535.7 369.4 542.7 369.5 545.0 L369.0 680.0 L-20.0 680.0 L-20.0 439.0 Z" fill="rgb(230,240,30)"/>
<path d="M211.0 450.5 C213.2 449.7 220.1 447.0 224.3 445.8 C228.6 444.6 232.4 443.6 236.5 443.4 C240.6 443.2 244.6 443.5 248.7 444.6 C252.8 445.7 256.8 448.2 260.8 450.0 C264.9 451.8 268.8 453.7 273.0 455.5 C277.2 457.3 282.8 459.3 286.0 461.0 C289.2 462.7 290.0 463.8 292.0 465.8 C294.0 467.8 295.3 469.8 298.0 473.0 C300.7 476.2 304.7 481.3 308.0 485.0 C311.3 488.7 314.8 492.5 318.0 495.0 C321.2 497.5 324.5 498.4 327.4 500.0 C330.3 501.6 333.0 502.7 335.5 504.3 C338.0 505.9 340.3 507.7 342.3 509.7 C344.3 511.7 346.1 514.0 347.7 516.5 C349.3 519.0 350.6 521.9 351.8 524.6 C353.0 527.3 354.2 529.3 355.0 532.7 C355.8 536.1 356.2 543.0 356.5 545.0 L356.0 680.0 L-20.0 680.0 L-20.0 450.0 Z" fill="rgb(160,235,25)"/>
<path d="M209.0 463.0 C211.6 462.3 219.7 459.9 224.3 458.6 C228.9 457.3 233.1 455.7 236.5 455.0 C239.9 454.3 242.0 453.9 245.0 454.3 C248.0 454.7 251.0 456.1 254.7 457.4 C258.4 458.7 262.9 460.7 267.0 462.2 C271.1 463.7 276.0 465.5 279.0 466.5 C282.0 467.5 283.2 467.1 285.0 468.0 C286.8 468.9 288.1 470.3 289.7 472.0 C291.3 473.7 293.1 475.3 294.6 478.0 C296.2 480.7 296.9 485.4 299.0 488.0 C301.1 490.6 304.3 491.5 307.0 493.5 C309.7 495.5 312.6 498.0 315.3 500.0 C318.0 502.0 320.7 503.9 323.4 505.7 C326.1 507.5 329.1 508.9 331.5 511.0 C333.9 513.0 336.2 515.7 338.0 518.0 C339.8 520.3 341.1 522.4 342.3 524.6 C343.5 526.8 344.3 528.0 345.0 531.4 C345.7 534.8 346.2 542.7 346.4 545.0 L346.0 680.0 L-20.0 680.0 L-20.0 463.0 Z" fill="rgb(50,220,35)"/>
<path d="M204.0 476.5 C207.4 475.8 218.9 473.2 224.3 472.0 C229.7 470.8 232.8 470.0 236.5 469.5 C240.2 469.0 242.9 468.7 246.2 469.0 C249.4 469.3 252.4 470.4 256.0 471.4 C259.6 472.4 264.2 474.0 268.0 475.0 C271.8 476.0 275.8 476.0 279.0 477.5 C282.2 479.0 284.3 481.3 287.0 484.0 C289.7 486.7 292.5 491.2 295.0 493.5 C297.5 495.8 299.6 496.0 301.8 497.6 C304.1 499.2 306.2 501.0 308.5 503.0 C310.8 505.0 313.1 507.4 315.3 509.7 C317.6 511.9 319.8 514.5 322.0 516.5 C324.2 518.5 326.8 520.2 328.8 522.0 C330.8 523.8 332.5 525.5 334.0 527.3 C335.5 529.1 337.1 529.8 338.0 532.7 C338.9 535.7 339.3 543.0 339.6 545.0 L339.0 680.0 L-20.0 680.0 L-20.0 476.0 Z" fill="rgb(45,205,140)"/>
<path d="M205.0 507.0 C206.3 506.1 209.6 503.9 212.8 501.8 C216.0 499.7 220.4 496.9 224.3 494.5 C228.2 492.1 232.8 489.0 236.5 487.2 C240.2 485.4 242.9 484.0 246.2 483.5 C249.4 483.0 252.4 483.2 256.0 484.0 C259.6 484.8 264.2 486.6 268.0 488.4 C271.8 490.1 275.8 492.6 279.0 494.5 C282.2 496.4 284.5 498.7 287.3 500.0 C290.1 501.3 292.9 501.8 295.8 502.3 C298.7 502.8 302.6 502.0 304.5 503.0 C306.4 504.0 306.4 506.4 307.0 508.4 C307.6 510.4 307.6 512.1 307.8 515.0 C308.1 517.9 308.4 524.2 308.5 526.0 L308.0 600.0 L200.0 600.0 Z" fill="rgb(58,175,250)"/>
<path d="M540.0 381.5 C538.7 381.7 535.0 382.1 532.4 382.5 C529.8 382.9 527.0 383.2 524.3 383.8 C521.6 384.4 518.7 385.5 516.0 386.2 C513.3 386.9 510.5 387.4 508.0 388.0 C505.5 388.6 503.1 389.5 500.8 390.0 C498.5 390.5 496.2 390.2 494.3 391.0 C492.4 391.8 490.9 393.1 489.5 395.0 C488.1 396.9 487.6 400.1 486.2 402.4 C484.8 404.7 483.7 407.4 481.4 408.9 C479.1 410.4 475.8 411.3 472.4 411.3 C469.0 411.3 464.6 409.9 461.0 408.9 C457.4 407.9 454.1 405.9 450.5 405.5 C446.9 405.1 442.4 405.4 439.2 406.4 C435.9 407.3 433.2 409.0 431.0 411.2 C428.8 413.4 427.8 416.3 426.2 419.3 C424.6 422.3 423.0 425.8 421.4 429.0 C419.8 432.2 418.4 435.6 416.5 438.8 C414.6 442.1 412.1 444.6 410.0 448.5 C407.9 452.4 405.4 458.9 403.8 462.5 C402.1 466.1 400.8 466.2 400.0 470.0 C399.2 473.8 399.1 480.8 398.8 485.0 C398.4 489.2 398.1 493.3 398.0 495.0 L398 680 L700 680 L700 381.5 Z" fill="rgb(255,125,10)"/>
<path d="M410.0 490.0 C410.0 486.1 408.9 472.1 410.0 466.3 C411.1 460.5 414.3 459.6 416.5 455.0 C418.7 450.4 421.1 443.7 423.0 438.8 C424.9 433.9 426.2 429.3 427.8 425.8 C429.4 422.3 430.8 419.6 432.7 417.7 C434.6 415.8 436.2 415.0 439.2 414.5 C442.2 414.0 446.7 413.8 450.5 414.5 C454.3 415.2 457.8 417.0 461.9 418.5 C466.0 420.0 470.6 421.5 474.9 423.4 C479.2 425.3 483.8 427.5 487.8 429.9 C491.9 432.3 495.7 435.4 499.2 438.0 C502.7 440.6 505.9 442.7 508.9 445.3 C511.9 447.9 514.6 450.7 517.0 453.4 C519.4 456.1 521.9 459.1 523.5 461.5 C525.1 463.9 525.2 465.9 526.8 468.0 C528.4 470.1 532.0 473.0 533.0 474.0 L540.0 560.0 L410.0 560.0 Z" fill="rgb(255,90,15)"/>
<path d="M418.0 490.0 C418.3 487.4 418.6 479.0 419.7 474.5 C420.8 470.0 422.9 467.5 424.6 463.1 C426.3 458.7 428.4 452.6 430.0 448.0 C431.6 443.4 433.0 439.5 434.3 435.5 C435.6 431.5 436.2 426.9 437.6 424.2 C439.0 421.5 440.5 419.9 442.4 419.3 C444.3 418.8 446.2 419.5 448.9 420.9 C451.6 422.2 455.1 425.2 458.6 427.4 C462.1 429.6 466.2 431.5 470.0 433.9 C473.8 436.3 477.6 439.3 481.4 442.0 C485.2 444.7 489.2 447.7 492.7 450.1 C496.2 452.5 499.1 454.2 502.4 456.6 C505.6 459.0 509.2 462.0 512.2 464.7 C515.2 467.4 518.0 470.2 520.3 472.8 C522.6 475.4 525.0 478.8 526.0 480.0 L530.0 560.0 L418.0 560.0 Z" fill="rgb(235,35,10)"/>
<path d="M440.0 492.0 C440.3 488.8 441.1 478.2 441.6 472.8 C442.1 467.4 442.5 464.2 443.2 459.9 C443.9 455.6 444.5 450.0 445.7 446.9 C446.9 443.8 448.6 441.9 450.5 441.2 C452.4 440.5 454.6 441.3 457.0 442.8 C459.4 444.3 462.1 447.2 465.1 450.1 C468.1 453.0 471.6 456.9 474.9 459.9 C478.1 462.9 481.4 465.6 484.6 468.0 C487.8 470.4 491.1 472.4 494.3 474.5 C497.5 476.6 500.8 478.8 504.0 480.9 C507.2 483.0 511.1 485.5 513.8 487.4 C516.5 489.2 519.0 491.2 520.0 492.0 L520.0 560.0 L440.0 560.0 Z" fill="rgb(204,8,8)"/>
<path d="M452.0 487.0 C452.2 486.0 452.4 483.1 453.0 481.0 C453.6 478.9 454.2 476.0 455.4 474.5 C456.6 473.0 458.4 472.3 460.3 472.0 C462.2 471.7 464.7 471.9 466.8 472.8 C468.9 473.8 471.1 475.9 473.2 477.7 C475.3 479.5 477.5 481.5 479.7 483.4 C481.9 485.3 484.0 487.5 486.2 489.0 C488.4 490.5 489.6 491.5 492.7 492.3 C495.8 493.1 501.1 494.1 505.0 494.0 C508.9 493.9 514.2 492.3 516.0 492.0 L516.0 560.0 L452.0 560.0 Z" fill="rgb(165,5,10)"/>
<path d="M96.0 226.0 C96.7 226.5 98.5 226.8 100.0 229.0 C101.5 231.2 103.2 237.9 104.9 239.2 C106.7 240.5 107.4 238.2 110.5 236.8 C113.6 235.4 118.9 232.1 123.5 231.0 C128.1 229.9 133.4 230.0 138.0 230.3 C142.6 230.6 146.7 231.9 151.0 232.7 C155.3 233.5 159.7 234.9 164.0 235.0 C168.3 235.1 172.7 234.6 177.0 233.5 C181.3 232.4 186.6 230.0 190.0 228.6 C193.4 227.2 194.2 224.3 197.5 225.0 C200.8 225.7 206.7 229.2 210.0 232.5 C213.3 235.8 215.3 240.9 217.5 245.0 C219.7 249.1 221.6 253.7 223.0 257.0 C224.4 260.3 225.7 261.2 226.0 265.0 C226.3 268.8 226.8 275.4 225.0 280.0 C223.2 284.6 218.2 289.2 215.0 292.5 C211.8 295.8 207.9 297.1 206.0 300.0 C204.1 302.9 203.3 306.2 203.8 310.0 C204.2 313.8 206.5 318.8 208.8 322.5 C211.0 326.2 214.8 327.9 217.5 332.5 C220.2 337.1 223.1 345.1 225.0 350.0 C226.9 354.9 229.0 358.7 229.0 362.0 C229.0 365.3 226.5 368.0 225.0 370.0 C223.5 372.0 220.8 373.3 220.0 374.0 L100.0 400.0 L60.0 400.0 L60.0 226.0 Z" fill="rgb(255,90,15)"/>
<path d="M88.0 232.0 C89.2 232.7 92.3 234.2 95.0 236.0 C97.7 237.8 101.5 241.9 104.0 243.0 C106.5 244.1 107.8 242.3 110.0 242.5 C112.2 242.7 114.5 244.3 117.0 244.0 C119.5 243.7 122.0 241.5 125.0 240.8 C128.0 240.1 131.6 239.5 134.9 240.0 C138.2 240.5 141.9 242.7 144.6 244.0 C147.3 245.3 148.8 246.8 151.0 248.0 C153.2 249.2 154.3 249.4 157.6 251.3 C160.8 253.2 166.7 257.1 170.5 259.5 C174.3 261.9 177.1 264.1 180.3 266.0 C183.6 267.9 186.7 269.3 190.0 270.8 C193.3 272.3 197.7 273.3 200.0 275.0 C202.3 276.7 203.8 279.2 203.8 281.2 C203.8 283.3 202.3 286.2 200.0 287.5 C197.7 288.8 193.3 288.3 190.0 288.8 C186.7 289.2 181.7 289.8 180.0 290.0 L150.0 320.0 L60.0 320.0 L60.0 232.0 Z" fill="rgb(235,35,10)"/>
<path d="M108.0 192.0 C108.8 193.8 110.4 199.7 113.0 203.0 C115.6 206.3 120.4 209.3 123.5 211.6 C126.6 213.8 128.3 215.0 131.6 216.5 C134.8 218.0 138.9 219.4 143.0 220.5 C147.1 221.6 152.2 223.0 156.0 223.0 C159.8 223.0 163.0 222.0 165.7 220.5 C168.4 219.0 170.8 216.4 172.2 214.0 C173.5 211.6 174.0 208.7 173.8 206.0 C173.7 203.3 171.7 199.3 171.3 198.0 L171.0 170.0 L108.0 170.0 Z" fill="rgb(255,150,10)"/>
<path d="M149.5 189.0 C149.1 189.6 148.2 190.9 147.3 192.4 C146.4 193.9 144.6 196.0 144.0 198.0 C143.4 200.0 143.4 202.5 144.0 204.6 C144.6 206.7 145.8 209.0 147.3 210.3 C148.8 211.7 151.1 212.6 153.0 212.7 C154.9 212.8 157.2 212.0 158.6 211.0 C160.0 210.0 161.0 207.2 161.5 206.5 L170.0 195.0 L160.0 185.0 Z" fill="rgb(255,180,15)"/>
<path d="M322.0 103.0 C323.5 102.9 328.0 102.6 331.0 102.5 C334.0 102.4 336.8 101.7 340.0 102.5 C343.2 103.3 346.7 105.0 350.0 107.5 C353.3 110.0 357.1 113.3 360.0 117.5 C362.9 121.7 364.6 127.9 367.5 132.5 C370.4 137.1 373.8 140.8 377.5 145.0 C381.2 149.2 386.2 153.8 390.0 157.5 C393.8 161.2 396.7 164.4 400.0 167.5 C403.3 170.6 406.7 173.8 410.0 176.0 C413.3 178.2 416.8 180.8 420.0 181.0 C423.2 181.2 426.6 179.8 429.0 177.5 C431.4 175.2 433.7 171.2 434.5 167.5 C435.3 163.8 434.7 159.2 433.8 155.0 C432.8 150.8 430.0 146.7 428.8 142.5 C427.5 138.3 425.8 133.3 426.0 130.0 C426.2 126.7 428.8 124.5 430.0 122.5 C431.2 120.5 432.5 118.8 433.0 118.0 L433.0 30.0 L300.0 30.0 L300.0 103.0 Z" fill="rgb(165,5,10)"/>
<path d="M324.0 100.0 L362.5 73.8 L370.0 50.0 L300.0 50.0 L300.0 100.0 Z" fill="rgb(124,3,3)"/>
<path d="M456.0 134.0 C456.2 134.8 456.8 136.1 457.5 138.8 C458.2 141.4 458.8 146.5 460.0 150.0 C461.2 153.5 463.3 157.1 465.0 160.0 C466.7 162.9 467.9 164.6 470.0 167.5 C472.1 170.4 475.2 174.6 477.5 177.5 C479.8 180.4 481.7 183.3 483.8 185.0 C485.8 186.7 487.0 186.6 490.0 187.5 C493.0 188.4 497.8 189.5 502.0 190.5 C506.2 191.5 510.8 192.6 515.0 193.8 C519.2 194.9 523.8 197.1 527.5 197.5 C531.2 197.9 535.4 197.7 537.5 196.0 C539.6 194.3 539.8 190.6 540.0 187.5 C540.2 184.4 539.2 180.8 538.8 177.5 C538.3 174.2 537.7 169.6 537.5 168.0 L537.0 140.0 L456.0 120.0 Z" fill="rgb(165,5,10)"/>
<path d="M467.8 244.7 C470.1 243.1 472.4 240.8 475.8 240.0 C479.2 239.2 485.4 239.0 488.0 239.6 C490.6 240.2 491.0 241.4 491.6 243.6 C492.2 245.8 492.0 249.2 491.6 252.6 C491.2 256.0 490.9 260.2 489.4 264.0 C487.9 267.8 485.1 271.9 482.6 275.3 C480.1 278.7 476.9 281.9 474.6 284.4 C472.3 286.8 471.3 289.6 469.0 290.0 C466.7 290.4 463.8 288.5 461.0 286.6 C458.2 284.7 453.7 281.5 452.0 278.7 C450.3 275.9 450.1 273.0 450.9 269.6 C451.6 266.2 454.6 261.7 456.5 258.3 C458.4 254.9 460.1 251.6 462.0 249.3 C463.9 247.0 465.5 246.2 467.8 244.7 Z" fill="rgb(165,5,10)"/>
<path d="M514.4 240.3 C514.8 238.6 515.2 237.4 516.3 236.4 C517.4 235.4 519.3 234.8 520.9 234.5 C522.5 234.2 524.5 234.2 526.0 234.5 C527.5 234.8 528.9 234.8 530.0 236.4 C531.1 238.0 532.1 241.2 532.5 244.0 C532.9 246.8 533.4 251.2 532.5 253.2 C531.6 255.2 529.2 255.5 527.3 255.8 C525.4 256.1 522.7 255.8 520.9 255.2 C519.1 254.5 517.4 253.3 516.3 251.9 C515.2 250.5 514.4 248.6 514.1 246.7 C513.8 244.8 514.0 242.0 514.4 240.3 Z" fill="rgb(255,90,15)"/>
<path d="M551.5 170.0 C552.2 172.2 554.7 179.3 555.5 183.0 C556.3 186.7 556.4 189.2 556.5 192.0 C556.6 194.8 556.1 197.7 556.3 200.0 C556.5 202.3 557.3 205.0 557.5 206.0 L590.0 206.0 L590.0 170.0 Z" fill="rgb(235,35,10)"/>
<path d="M570.5 176.0 C570.1 177.7 569.0 182.8 568.0 186.0 C567.0 189.2 565.6 192.8 564.5 195.5 C563.4 198.2 562.5 200.1 561.5 202.0 C560.5 203.9 559.0 206.2 558.5 207.0 L590.0 207.0 L590.0 176.0 Z" fill="rgb(255,90,15)"/>
<path d="M572.5 178.0 C572.0 179.5 570.6 184.0 569.5 187.0 C568.4 190.0 567.1 193.5 566.0 196.0 C564.9 198.5 563.5 201.0 563.0 202.0 L590.0 202.0 L590.0 178.0 Z" fill="rgb(255,125,10)"/>
<path d="M557.5 206.5 C557.2 206.8 556.9 206.9 555.8 208.0 C554.6 209.1 552.2 211.1 550.6 213.0 C549.0 214.9 547.2 217.4 546.0 219.6 C544.8 221.8 544.1 223.8 543.5 226.0 C542.9 228.2 542.6 230.5 542.6 232.5 C542.6 234.5 542.9 236.2 543.5 238.0 C544.1 239.8 545.5 241.6 546.0 243.0 C546.5 244.4 546.7 245.2 546.7 246.7 C546.7 248.2 546.6 250.5 546.0 252.0 C545.4 253.5 544.1 254.5 542.9 255.8 C541.7 257.1 540.1 258.2 539.0 259.7 C537.9 261.2 537.1 263.2 536.4 264.9 C535.7 266.6 535.2 269.1 535.0 270.0 L590.0 270.0 L590.0 206.0 Z" fill="rgb(255,90,15)"/>
<path d="M558.5 207.5 C558.2 207.8 557.9 208.0 557.0 209.2 C556.1 210.3 554.5 212.4 553.2 214.4 C551.9 216.4 550.3 218.8 549.3 220.9 C548.3 223.1 547.8 225.2 547.4 227.3 C547.0 229.5 546.7 232.1 546.7 233.8 C546.7 235.5 546.9 236.5 547.4 237.7 C547.9 238.9 549.6 240.4 550.0 241.0 L590.0 241.0 L590.0 207.0 Z" fill="rgb(255,125,10)"/>
<path d="M559.5 209.0 C559.3 209.5 559.1 210.5 558.4 211.8 C557.7 213.1 556.3 215.2 555.2 217.0 C554.1 218.8 552.8 220.9 551.9 222.8 C551.0 224.7 550.4 226.8 550.0 228.6 C549.6 230.4 549.2 232.4 549.3 233.8 C549.4 235.2 550.3 236.5 550.5 237.0 L590.0 237.0 L590.0 209.0 Z" fill="rgb(255,180,15)"/>
<path d="M540.3 257.0 C541.6 254.8 544.1 252.6 545.5 252.0 C546.9 251.4 548.0 252.1 548.7 253.2 C549.5 254.3 550.1 256.7 550.0 258.4 C549.9 260.1 549.4 262.4 548.0 263.6 C546.6 264.8 543.3 265.3 541.6 265.5 C539.9 265.7 537.9 266.3 537.7 264.9 C537.5 263.5 539.0 259.1 540.3 257.0 Z" fill="rgb(255,125,10)"/>
<path d="M513.0 286.0 C513.1 285.2 514.2 283.8 515.0 283.5 C515.8 283.2 517.2 283.8 517.5 284.5 C517.8 285.2 517.5 286.8 517.0 287.5 C516.5 288.2 515.2 288.8 514.5 288.5 C513.8 288.2 512.9 286.8 513.0 286.0 Z" fill="rgb(255,180,15)"/>
<path d="M518.5 280.0 C518.7 279.2 519.8 278.1 520.5 278.0 C521.2 277.9 522.3 278.8 522.5 279.5 C522.7 280.2 522.0 281.5 521.5 282.0 C521.0 282.5 520.0 282.8 519.5 282.5 C519.0 282.2 518.3 280.8 518.5 280.0 Z" fill="rgb(255,180,15)"/>
<path d="M580.0 500.0 L630.0 500.0 L630.0 595.0 L580.0 595.0 Z" fill="rgb(255,90,15)"/>
<path d="M618.0 505.7 L621.7 507.0 L622.0 513.0 L620.8 519.4 L623.5 525.6 L624.4 536.3 L623.0 540.0 L612.8 543.5 L608.3 541.7 L611.0 534.5 L615.5 527.5 L617.2 515.0 L616.7 507.8 Z" fill="rgb(255,125,10)"/>
<path d="M586.0 533.0 C587.8 534.3 593.4 538.2 596.7 541.0 C600.0 543.8 602.6 547.2 605.6 549.7 C608.6 552.2 611.9 554.6 614.5 556.0 C617.1 557.4 618.8 558.0 621.0 558.0 C623.2 558.0 626.8 556.3 628.0 556.0 L628.0 600.0 L580.0 600.0 L580.0 533.0 Z" fill="rgb(235,35,10)"/>
<path d="M584.0 542.0 C585.8 543.2 591.8 546.3 595.0 549.0 C598.2 551.7 600.8 554.8 603.0 558.0 C605.2 561.2 607.0 564.9 608.3 568.4 C609.6 571.9 609.9 575.1 610.6 579.0 C611.3 582.9 612.1 589.8 612.4 592.0 L580.0 592.0 L580.0 542.0 Z" fill="rgb(204,8,8)"/>
<circle cx="262.0" cy="496.8" r="2.2" fill="rgb(58,80,250)" stroke-width="0.4"/>
<circle cx="498.6" cy="176.8" r="2.8" fill="rgb(124,3,3)" stroke-width="0.4"/>
<circle cx="473.5" cy="263.4" r="2.6" fill="rgb(124,3,3)" stroke-width="0.4"/>
<circle cx="542.9" cy="239.6" r="2.6" fill="rgb(165,5,10)" stroke-width="0.4"/>
<circle cx="549.2" cy="201.8" r="2.3" fill="rgb(165,5,10)" stroke-width="0.4"/>
<circle cx="464.4" cy="347.0" r="1.8" fill="rgb(204,8,8)" stroke-width="0.4"/>
<circle cx="289.2" cy="392.0" r="3.4" fill="rgb(250,218,25)" stroke-width="0.4"/>
<circle cx="376.8" cy="446.0" r="3.2" fill="rgb(250,218,25)" stroke-width="0.4"/>
<circle cx="407.0" cy="345.0" r="1.8" fill="rgb(250,218,25)" stroke-width="0.4"/>
<circle cx="340.5" cy="379.2" r="1.9" fill="rgb(160,235,25)" stroke-width="0.4"/>
<circle cx="473.8" cy="396.4" r="3.0" fill="rgb(250,218,25)" stroke-width="0.4"/>
<circle cx="493.8" cy="396.0" r="1.6" fill="rgb(255,90,15)" stroke-width="0.4"/>
<circle cx="519.6" cy="244.8" r="1.2" fill="rgb(255,125,10)" stroke-width="0.4"/>
<path d="M512.5 326.0 C513.4 324.7 518.4 324.6 520.0 325.3 C521.6 326.0 521.6 327.9 522.0 330.0 C522.4 332.1 523.2 336.6 522.5 338.0 C521.8 339.4 519.3 339.3 518.0 338.5 C516.7 337.7 515.4 335.1 514.5 333.0 C513.6 330.9 511.6 327.3 512.5 326.0 Z" fill="rgb(125,100,25)" stroke="none"/>
<path d="M519.5 340.0 C520.2 338.8 521.8 338.7 523.0 339.0 C524.2 339.3 525.4 340.7 526.5 342.0 C527.6 343.3 528.9 345.5 529.5 347.0 C530.1 348.5 530.5 349.8 530.3 351.0 C530.0 352.2 529.2 353.8 528.0 354.5 C526.8 355.2 524.3 355.7 523.0 355.3 C521.7 354.9 520.7 353.6 520.0 352.0 C519.3 350.4 519.1 348.0 519.0 346.0 C518.9 344.0 518.8 341.2 519.5 340.0 Z" fill="rgb(28,72,18)" stroke="none"/>
</g>
<path d="M80.5 211.6 L81.0 208.7 L82.2 206.0 L83.7 204.4 L86.1 204.0 L87.8 202.7 L89.6 200.9 L92.2 200.6 L94.3 199.5 L97.0 198.7 L99.5 197.6 L102.4 197.8 L104.8 196.5 L106.9 194.4 L109.7 193.8 L112.2 194.5 L114.8 194.7 L117.0 196.2 L119.9 195.2 L123.0 195.5 L126.0 195.4 L127.4 193.1 L127.6 190.5 L129.9 189.3 L132.4 188.9 L134.9 188.9 L137.1 188.6 L139.4 188.6 L141.3 187.3 L143.5 187.2 L145.6 186.6 L147.8 186.5 L147.8 189.6 L149.5 192.2 L151.7 193.5 L152.2 196.4 L154.3 197.8 L156.0 199.6 L157.7 201.5 L159.1 203.6 L160.0 206.0 L162.2 203.8 L165.2 202.6 L167.3 200.3 L169.9 199.5 L172.7 199.9 L175.4 199.5 L178.2 199.2 L180.8 198.1 L183.5 197.8 L185.4 198.6 L187.3 199.3 L188.5 201.6 L188.9 204.0 L188.5 206.5 L188.2 204.1 L189.4 201.9 L189.3 199.5 L189.5 197.8 L190.0 196.2 L192.1 197.9 L193.8 200.0 L196.9 199.9 L200.0 199.5 L202.9 199.2 L205.8 198.6 L208.8 198.8 L208.4 196.5 L207.4 194.5 L206.2 192.5 L204.6 190.2 L203.9 187.4 L202.5 185.0 L202.9 182.5 L203.8 180.1 L203.8 177.6 L203.8 175.0 L202.2 172.3 L202.0 169.0 L199.4 166.8 L198.8 163.8 L197.4 161.6 L196.7 159.1 L194.5 157.5 L193.8 155.0 L193.4 152.5 L192.3 150.1 L193.1 147.5 L192.5 145.0 L191.7 142.3 L190.1 139.9 L188.8 137.5 L191.4 138.8 L194.4 138.4 L197.1 139.7 L200.0 140.0 L202.5 139.8 L205.0 139.3 L207.5 138.8 L210.0 139.1 L212.4 140.2 L215.0 140.0 L214.5 142.6 L215.7 145.0 L215.6 147.5 L216.2 150.0 L218.2 152.1 L218.4 155.2 L220.0 157.5 L223.0 157.5 L226.1 157.9 L229.0 157.3 L232.0 156.1 L235.0 156.2 L238.0 156.8 L240.9 158.0 L244.2 157.7 L247.0 159.2 L250.0 160.0 L252.6 159.7 L255.1 159.9 L257.6 160.1 L260.0 161.2 L262.4 160.4 L264.0 158.2 L266.3 157.1 L268.8 156.2 L270.7 154.8 L273.3 154.3 L275.0 152.5 L272.0 152.8 L269.2 151.8 L266.2 151.2 L266.8 148.8 L267.8 146.4 L267.5 143.8 L269.7 142.6 L271.7 141.1 L272.9 138.8 L275.0 137.5 L276.8 135.8 L278.6 134.2 L281.1 133.3 L282.5 131.2 L285.7 131.0 L288.1 128.6 L291.1 127.6 L294.0 126.6 L296.9 125.6 L300.0 125.0 L302.5 123.7 L305.1 122.6 L307.3 120.9 L309.6 119.2 L312.5 118.8 L314.3 116.5 L316.1 114.2 L318.2 112.3 L320.0 110.0 L322.9 109.5 L325.0 107.5 L323.2 105.4 L321.0 103.8 L321.3 101.0 L321.8 98.3 L322.2 95.5 L321.4 92.7 L322.5 90.0 L323.1 87.1 L322.9 84.3 L323.0 81.4 L322.8 78.6 L321.9 75.7 L321.9 72.9 L322.0 70.0 L324.4 68.1 L327.4 67.7 L330.0 66.2 L332.1 64.3 L334.7 63.1 L337.3 62.0 L339.7 60.7 L342.4 59.7 L345.0 58.8 L347.6 57.5 L350.3 56.9 L353.1 56.6 L355.9 56.0 L358.8 56.2 L359.6 59.0 L360.7 61.7 L359.8 64.8 L361.0 67.5 L362.5 70.1 L364.8 72.2 L366.2 74.8 L367.5 77.5 L370.0 76.8 L372.5 76.4 L375.0 76.2 L376.7 74.8 L379.2 75.2 L381.0 73.8 L381.5 76.4 L383.7 78.2 L384.9 80.5 L386.8 82.4 L387.5 85.0 L390.4 86.1 L392.7 88.1 L395.0 90.0 L398.2 89.9 L401.2 91.2 L404.4 90.3 L407.5 91.2 L409.1 93.9 L409.0 97.0 L411.2 98.7 L414.0 98.8 L416.5 99.7 L418.8 101.2 L420.2 103.6 L422.2 105.4 L422.2 108.4 L420.5 111.0 L420.7 113.7 L420.2 116.6 L421.4 119.2 L423.9 120.9 L426.7 121.7 L429.5 122.4 L432.1 121.7 L434.7 121.6 L437.3 120.9 L440.0 121.2 L440.8 118.8 L440.7 116.3 L441.0 113.8 L443.3 112.9 L445.0 111.2 L446.7 112.3 L448.0 113.8 L447.8 116.8 L446.1 119.5 L446.0 122.5 L446.1 125.7 L447.2 128.5 L448.8 131.2 L450.5 133.0 L452.6 134.2 L455.0 135.0 L457.0 136.6 L459.6 137.1 L461.5 138.8 L463.8 140.0 L465.5 141.7 L467.5 143.2 L469.1 145.1 L470.0 147.5 L472.5 146.8 L474.9 146.4 L477.5 146.9 L480.0 146.2 L482.1 148.2 L485.0 148.7 L487.1 150.7 L490.0 151.2 L493.2 151.8 L496.3 151.4 L499.4 150.1 L502.5 150.0 L504.9 150.8 L507.1 152.1 L509.3 153.3 L511.2 155.0 L513.0 157.3 L513.6 160.1 L514.4 162.8 L515.7 165.3 L517.5 167.5 L520.0 167.5 L522.5 167.8 L525.0 168.0 L527.5 167.5 L530.3 168.1 L532.4 170.3 L535.0 171.2 L537.7 171.3 L540.1 170.5 L542.6 169.8 L545.0 168.8 L547.5 170.3 L550.3 171.4 L552.2 173.9 L555.0 175.0 L557.6 175.3 L559.9 176.8 L562.3 177.7 L565.0 177.5 L567.4 178.3 L569.8 179.2 L571.8 181.1 L574.5 181.2 L572.7 183.5 L572.0 186.6 L570.0 188.8 L569.6 191.6 L568.6 194.1 L566.3 196.2 L566.0 199.0 L564.1 199.0 L562.5 200.0 L561.8 202.8 L559.5 204.7 L558.0 207.1 L557.5 210.0 L556.5 212.4 L556.3 215.1 L555.2 217.5 L555.1 220.2 L553.8 222.5 L553.8 225.3 L551.4 227.3 L551.2 229.9 L550.7 232.5 L550.0 235.0 L548.9 237.4 L549.5 240.0 L548.4 242.4 L548.8 245.0 L548.5 247.6 L549.9 249.9 L550.1 252.4 L550.0 255.0 L549.0 257.7 L547.7 260.2 L546.0 262.5 L543.9 263.5 L542.2 265.2 L540.0 266.0 L537.5 266.1 L535.0 266.7 L532.5 266.0 L530.2 265.8 L528.2 267.3 L526.0 267.5 L527.4 270.0 L528.8 272.5 L526.6 274.0 L524.1 275.3 L522.5 277.5 L521.0 279.5 L518.7 280.8 L517.6 283.1 L516.0 285.0 L514.5 286.8 L513.0 288.7 L512.2 291.2 L510.0 292.5 L508.8 295.3 L507.5 298.0 L507.7 300.5 L507.6 302.9 L505.8 305.0 L506.0 307.5 L504.5 309.5 L502.4 310.5 L500.5 312.0 L498.6 313.3 L497.1 315.1 L495.5 316.8 L495.4 318.8 L494.6 320.7 L495.3 323.1 L496.0 325.5 L495.2 327.4 L494.6 329.4 L492.6 331.4 L491.9 334.3 L489.7 336.2 L489.2 338.6 L491.8 338.7 L494.4 338.1 L497.0 338.6 L497.8 336.3 L499.4 334.3 L500.6 331.5 L500.9 328.4 L503.1 328.0 L505.2 327.5 L507.2 326.3 L509.1 325.0 L511.6 325.3 L514.0 324.6 L516.2 325.5 L518.5 324.8 L520.8 325.0 L521.1 327.2 L521.7 329.4 L521.9 331.8 L522.2 334.2 L522.1 336.6 L522.7 339.0 L524.2 340.9 L525.6 343.0 L527.1 344.9 L528.5 346.9 L528.5 349.1 L530.0 350.8 L528.0 352.5 L526.6 354.7 L523.5 355.0 L520.8 356.6 L519.8 359.4 L520.3 362.4 L522.9 363.3 L525.1 365.1 L527.6 366.3 L528.1 369.4 L529.5 372.1 L531.9 374.4 L532.5 377.5 L534.1 378.9 L534.5 381.0 L533.7 383.8 L532.8 386.6 L531.3 388.7 L529.2 389.9 L527.0 391.0 L525.2 392.9 L522.7 393.5 L519.8 392.9 L516.8 393.0 L514.7 393.8 L514.5 396.1 L515.4 398.2 L516.4 399.9 L518.3 400.4 L519.3 402.5 L519.0 404.7 L520.6 406.8 L522.7 408.4 L524.8 408.8 L527.0 408.7 L528.8 411.3 L530.0 414.0 L530.0 417.0 L528.0 418.5 L527.0 420.8 L525.5 422.8 L526.2 425.4 L525.0 427.5 L524.5 430.1 L525.8 432.5 L526.0 435.0 L528.2 436.6 L529.8 439.0 L532.5 440.0 L534.7 441.8 L537.8 442.0 L540.0 443.8 L542.5 444.4 L545.0 445.3 L547.5 446.0 L550.0 445.7 L552.5 445.5 L555.0 446.0 L554.9 448.2 L553.8 450.3 L553.8 452.5 L552.6 455.5 L550.0 457.5 L549.1 460.0 L548.4 462.5 L547.5 465.0 L545.5 467.4 L542.7 468.6 L540.0 470.0 L536.8 470.3 L533.8 471.0 L533.1 473.0 L532.5 475.0 L530.6 476.6 L527.9 475.9 L526.0 477.5 L524.1 479.1 L522.3 480.7 L522.1 483.6 L520.0 485.0 L518.6 487.0 L517.3 488.9 L515.0 490.0 L513.3 492.3 L512.5 495.0 L510.2 496.6 L507.8 498.1 L505.0 498.8 L502.5 499.6 L499.8 499.5 L497.5 501.0 L494.9 500.9 L492.6 502.4 L490.0 502.5 L487.3 502.3 L485.2 500.1 L482.5 500.0 L480.1 498.6 L477.7 497.2 L474.7 496.9 L472.5 495.0 L469.6 494.0 L467.7 491.4 L465.0 490.0 L463.6 487.6 L461.8 485.3 L462.0 482.1 L460.0 480.0 L457.0 479.3 L454.1 478.6 L451.0 478.8 L450.5 481.2 L448.1 482.6 L447.5 485.0 L445.1 486.1 L442.4 485.0 L440.0 486.0 L437.5 486.1 L435.0 486.0 L432.4 485.1 L430.0 483.6 L427.5 482.5 L425.2 480.9 L422.4 481.2 L420.0 480.0 L417.3 480.0 L415.0 478.8 L412.5 480.0 L410.2 481.7 L407.8 483.1 L405.0 483.8 L402.8 485.5 L400.4 487.0 L397.7 488.0 L395.0 488.8 L392.7 490.6 L390.2 492.2 L387.3 493.0 L385.0 495.0 L383.6 497.7 L381.7 500.0 L380.0 502.5 L379.9 505.1 L379.0 507.6 L379.0 510.2 L377.5 512.5 L378.3 515.6 L379.0 518.7 L378.0 521.9 L378.8 525.0 L379.2 527.5 L380.4 529.9 L380.5 532.5 L381.0 535.0 L378.7 533.8 L376.0 534.9 L373.8 533.8 L370.8 533.6 L367.9 534.7 L365.0 535.0 L362.5 536.3 L359.7 537.0 L357.5 538.8 L354.3 538.3 L351.3 537.4 L348.2 536.4 L345.0 536.0 L342.3 535.6 L340.1 537.3 L337.5 537.5 L336.0 535.4 L334.0 534.0 L332.0 532.4 L330.0 531.0 L327.3 531.2 L324.7 531.3 L322.0 531.0 L320.2 529.3 L319.2 527.1 L317.9 525.0 L317.5 522.5 L315.2 521.1 L312.3 520.9 L309.8 520.1 L307.2 519.2 L305.0 517.5 L302.4 516.5 L299.7 516.0 L296.9 515.9 L294.1 516.2 L291.4 515.9 L288.8 515.0 L288.5 517.6 L287.5 520.0 L284.4 520.7 L281.4 521.9 L278.1 522.0 L275.0 522.5 L271.8 522.3 L268.9 520.4 L265.8 519.8 L262.5 520.0 L260.0 518.7 L257.3 517.9 L255.4 515.5 L252.5 515.0 L250.0 515.6 L247.5 515.8 L245.1 516.6 L242.5 516.0 L239.9 514.5 L237.5 512.7 L235.0 511.0 L232.5 510.0 L229.8 509.5 L227.5 508.0 L224.7 507.8 L222.3 506.4 L220.0 505.0 L216.8 504.9 L214.0 503.5 L211.0 502.5 L209.3 499.9 L208.4 497.0 L208.0 494.0 L207.5 491.0 L205.3 491.1 L203.2 490.2 L201.0 490.0 L199.0 489.1 L197.2 487.9 L195.0 487.5 L197.2 485.7 L199.3 483.8 L201.5 482.0 L202.9 479.4 L205.0 477.5 L205.4 474.4 L207.3 471.7 L206.6 468.3 L208.4 465.6 L208.8 462.5 L209.5 459.7 L209.0 456.6 L211.0 454.0 L211.6 451.2 L211.7 448.3 L212.4 445.4 L212.5 442.5 L213.5 439.7 L212.7 436.6 L213.8 433.8 L214.2 430.8 L215.2 428.0 L215.0 425.0 L215.9 421.9 L216.2 418.8 L216.1 415.6 L216.2 412.5 L217.2 409.6 L217.0 406.7 L217.2 403.8 L216.6 400.8 L216.4 397.9 L217.5 395.0 L217.1 391.9 L217.8 389.0 L217.5 385.9 L219.1 383.1 L218.8 380.0 L219.5 377.5 L220.0 375.0 L221.5 372.6 L222.7 370.1 L223.8 367.5 L222.5 364.8 L220.6 362.5 L218.3 360.5 L217.5 357.5 L219.6 355.3 L221.2 352.7 L222.5 350.0 L222.3 347.6 L222.1 345.1 L222.0 342.7 L221.5 340.3 L219.8 337.7 L220.0 334.5 L218.6 331.8 L216.1 331.1 L213.7 330.2 L211.8 328.4 L209.1 327.5 L206.9 325.5 L203.9 325.0 L201.6 323.3 L199.7 321.3 L197.8 319.2 L195.1 318.2 L193.0 316.5 L191.6 314.5 L190.5 312.3 L189.5 310.0 L188.0 308.0 L186.4 305.4 L184.2 303.3 L182.0 301.2 L182.8 298.6 L183.0 296.0 L182.8 293.6 L183.4 291.4 L184.6 289.3 L182.9 287.9 L182.1 285.6 L180.4 284.2 L178.8 281.8 L177.8 279.0 L175.6 277.8 L172.9 277.6 L171.0 275.7 L168.4 274.6 L166.8 272.3 L166.7 270.0 L167.6 267.8 L167.6 265.5 L165.2 264.3 L162.5 263.8 L159.7 263.8 L157.0 264.5 L155.3 263.5 L154.0 262.0 L151.5 261.5 L149.0 261.0 L147.2 259.0 L145.5 257.0 L143.2 256.6 L141.0 256.0 L139.1 254.8 L138.9 252.2 L137.0 251.0 L134.3 250.9 L132.1 248.9 L129.5 248.4 L126.8 248.5 L123.8 248.4 L121.3 246.7 L118.6 245.7 L116.7 244.3 L114.6 243.2 L112.2 243.2 L110.2 241.7 L108.1 240.3 L106.5 238.4 L105.6 240.8 L103.1 242.3 L102.4 244.9 L99.7 246.2 L96.8 246.5 L95.9 243.8 L94.1 241.5 L93.8 238.6 L92.7 236.0 L90.5 234.4 L87.6 235.0 L85.6 233.0 L83.0 232.7 L85.7 232.3 L88.5 232.6 L91.2 231.9 L93.7 230.6 L96.6 231.4 L99.2 230.3 L99.6 228.6 L100.0 227.0 L97.5 227.7 L95.1 227.5 L92.7 226.4 L90.3 226.2 L89.4 223.4 L88.6 220.5 L89.5 217.6 L91.0 214.9 L88.5 216.1 L85.7 216.2 L83.0 216.5 L81.5 214.2 Z M618.0 505.7 L620.0 506.1 L621.7 507.0 L621.8 510.0 L622.0 513.0 L621.8 515.2 L621.1 517.2 L620.8 519.4 L621.6 521.5 L623.1 523.3 L623.5 525.6 L624.3 528.2 L623.5 531.0 L624.5 533.6 L624.4 536.3 L624.8 539.4 L624.1 542.6 L624.8 545.7 L624.9 548.8 L623.7 551.7 L623.4 554.7 L622.6 557.7 L621.5 559.9 L621.2 562.3 L619.7 564.3 L619.0 566.6 L618.0 569.5 L617.8 572.5 L617.2 575.5 L616.0 578.4 L615.2 581.4 L614.5 584.4 L614.1 586.9 L612.8 589.0 L610.7 587.7 L608.3 587.0 L606.2 584.8 L603.9 582.7 L601.4 581.7 L598.8 580.7 L596.7 579.0 L598.0 576.5 L598.5 573.8 L596.4 572.6 L594.5 571.2 L592.3 570.2 L594.0 568.2 L595.0 565.7 L593.0 564.0 L591.1 562.4 L588.7 561.3 L590.9 559.0 L593.2 556.8 L591.7 554.5 L589.5 552.7 L587.8 550.6 L589.6 548.1 L590.5 545.2 L589.7 542.9 L587.7 541.3 L587.0 539.0 L588.1 536.7 L589.7 534.7 L591.4 532.8 L592.8 530.3 L593.2 527.4 L596.1 526.2 L599.1 525.2 L602.0 523.9 L604.3 522.5 L606.8 521.5 L609.2 520.3 L611.9 521.0 L614.6 522.0 L615.3 519.6 L616.4 517.4 L617.2 515.0 L617.1 512.6 L617.4 510.2 L616.7 507.8 Z" fill="none" stroke="#000" stroke-width="1.25" stroke-linejoin="round"/>
<path d="M215.5 414.5 L220.5 415.5 L221.0 419.0 L216.0 419.5 Z" fill="#fff" stroke="#000" stroke-width="0.9"/>
<path d="M452.8 480.5 L455.0 478.6 L458.5 479.5 L458.8 482.5 L456.0 483.8 L453.5 483.0 Z" fill="#fff" stroke="#000" stroke-width="0.9"/>
<path d="M317.5 526.0 L320.0 524.5 L326.0 526.0 L328.0 529.0 L326.5 532.0 L322.0 534.0 L318.0 533.4 Z" fill="#fff" stroke="#000" stroke-width="0.9"/>
<path d="M69.0 209.0 L71.5 208.3 L72.0 210.0 L69.5 210.8 Z" fill="#000" fill-opacity="0.35" stroke="#000" stroke-width="1.1" stroke-linejoin="round"/>
<path d="M138.7 271.5 L141.0 270.6 L144.0 272.0 L145.5 274.5 L143.5 275.7 L140.5 275.0 L138.9 273.5 Z" fill="#000" fill-opacity="0.35" stroke="#000" stroke-width="1.1" stroke-linejoin="round"/>
<path d="M129.4 255.8 L131.5 255.3 L132.8 256.5 L130.5 257.0 Z" fill="#000" fill-opacity="0.35" stroke="#000" stroke-width="1.1" stroke-linejoin="round"/>
<path d="M149.0 270.0 L151.0 269.8 L151.5 271.2 L149.5 271.5 Z" fill="#000" fill-opacity="0.35" stroke="#000" stroke-width="1.1" stroke-linejoin="round"/>
<path d="M152.5 271.8 L154.0 271.8 L154.0 273.0 L152.5 273.0 Z" fill="#000" fill-opacity="0.35" stroke="#000" stroke-width="1.1" stroke-linejoin="round"/>
<path d="M174.6 290.5 L177.5 290.0 L179.5 292.5 L179.0 296.0 L176.5 295.5 L175.0 293.5 Z" fill="#000" fill-opacity="0.35" stroke="#000" stroke-width="1.1" stroke-linejoin="round"/>
<path d="M171.0 307.2 L173.5 307.0 L175.3 308.5 L173.0 309.7 L171.2 309.0 Z" fill="#000" fill-opacity="0.35" stroke="#000" stroke-width="1.1" stroke-linejoin="round"/>
<path d="M203.0 333.5 L207.0 332.7 L212.0 334.0 L215.0 335.5 L214.5 337.5 L210.0 336.8 L205.5 336.3 Z" fill="#000" fill-opacity="0.35" stroke="#000" stroke-width="1.1" stroke-linejoin="round"/>
<path d="M210.0 346.0 L213.0 346.5 L216.0 351.0 L217.5 355.0 L214.5 354.0 L211.5 350.0 Z" fill="#000" fill-opacity="0.35" stroke="#000" stroke-width="1.1" stroke-linejoin="round"/>
<path d="M78.0 233.0 L79.5 233.0 L79.5 234.5 L78.0 234.5 Z" fill="#000" fill-opacity="0.35" stroke="#000" stroke-width="1.1" stroke-linejoin="round"/>
<path d="M497.0 506.0 L500.0 505.5 L503.0 506.5 L500.0 507.3 Z" fill="#000" fill-opacity="0.35" stroke="#000" stroke-width="1.1" stroke-linejoin="round"/>
<path d="M506.0 504.5 L509.0 504.0 L510.0 505.0 L507.0 505.5 Z" fill="#000" fill-opacity="0.35" stroke="#000" stroke-width="1.1" stroke-linejoin="round"/>
<g clip-path="url(#fr)" font-family="'Liberation Sans', sans-serif" font-size="14.5" fill="#100400" fill-opacity="0.88" stroke="#100400" stroke-opacity="0.88" stroke-width="0.55" text-anchor="middle">
<text transform="translate(405.0 172.0) rotate(55)" y="5">760</text>
<text transform="translate(500.0 190.0) rotate(3)" y="5">760</text>
<text transform="translate(303.0 256.0) rotate(50)" y="5">720</text>
<text transform="translate(313.0 307.0) rotate(12)" y="5">680</text>
<text transform="translate(162.5 253.5) rotate(30)" y="5">720</text>
<text transform="translate(449.0 261.7) rotate(-75)" y="5">760</text>
<text transform="translate(493.9 262.8) rotate(-65)" y="5">760</text>
<text transform="translate(530.0 243.5) rotate(80)" y="5">720</text>
<text transform="translate(472.0 322.0) rotate(-40)" y="5">720</text>
<text transform="translate(505.0 337.0) rotate(-45)" y="5">680</text>
<text transform="translate(515.3 400.7) rotate(48)" y="5">660</text>
<text transform="translate(404.0 374.0) rotate(62)" y="5">640</text>
<text transform="translate(313.8 385.0) rotate(-85)" y="5">640</text>
<text transform="translate(417.5 415.0) rotate(-35)" y="5">640</text>
<text transform="translate(409.5 449.0) rotate(-60)" y="5">680</text>
<text transform="translate(427.5 459.0) rotate(-70)" y="5">720</text>
<text transform="translate(519.0 474.0) rotate(50)" y="5">720</text>
<text transform="translate(503.0 494.0) rotate(5)" y="5">760</text>
<text transform="translate(325.0 465.8) rotate(0)" y="5">640</text>
<text transform="translate(307.5 483.0) rotate(40)" y="5">600</text>
<text transform="translate(288.0 486.0) rotate(35)" y="5">560</text>
<text transform="translate(221.0 411.0) rotate(-70)" y="5">640</text>
<text transform="translate(106.5 208.5) rotate(42)" y="5">680</text>
<text transform="translate(116.0 205.8) rotate(5)" y="5">660</text>
<text transform="translate(121.0 199.5) rotate(10)" y="5" font-size="12">640</text>
<text transform="translate(517.0 348.5) rotate(12)" y="5" font-size="12">660</text>
</g>
<g font-family="'Liberation Sans', sans-serif" font-size="13" font-weight="bold" fill="#173d0c" text-anchor="middle">
<text transform="translate(522.0 333.0) rotate(75)" y="4.5" font-size="12" fill="#2a2a08">600</text>
<text transform="translate(525.5 346.0) rotate(70)" y="4.5" font-size="12" fill="#0e3008">580</text>
<text transform="translate(522.5 349.0) rotate(60)" y="4.5" font-size="11" fill="#0e3008">560</text>
<text transform="translate(517.0 331.0) rotate(80)" y="4.5" font-size="11" fill="#3a2a08">620</text>
</g>
<g stroke="#5a5a5a" stroke-width="1" fill="none">
<line x1="60.5" y1="44.6" x2="60.5" y2="597.7"/>
<line x1="65.2" y1="44.6" x2="65.2" y2="597.7"/>
<line x1="630.9" y1="44.6" x2="630.9" y2="597.7"/>
<line x1="634.6" y1="44.6" x2="634.6" y2="597.7"/>
<line x1="60" y1="45.1" x2="635.1" y2="45.1"/>
<line x1="60" y1="49.4" x2="635.1" y2="49.4"/>
<line x1="60" y1="592.5" x2="635.1" y2="592.5"/>
<line x1="60" y1="597.2" x2="635.1" y2="597.2"/>
</g>
<text x="385" y="26" font-family="'Liberation Sans', sans-serif" font-size="15.55" fill="#111" text-anchor="middle">Ensoleillement du printemps 2020 (1er mars – 31 mai) en heures</text>
<rect x="652.5" y="565.76" width="18.0" height="26.94" fill="rgb(58,80,250)"/>
<rect x="652.5" y="539.12" width="18.0" height="26.94" fill="rgb(58,175,250)"/>
<rect x="652.5" y="512.49" width="18.0" height="26.94" fill="rgb(45,205,140)"/>
<rect x="652.5" y="485.85" width="18.0" height="26.94" fill="rgb(50,220,35)"/>
<rect x="652.5" y="459.21" width="18.0" height="26.94" fill="rgb(160,235,25)"/>
<rect x="652.5" y="432.57" width="18.0" height="26.94" fill="rgb(230,240,30)"/>
<rect x="652.5" y="405.94" width="18.0" height="26.94" fill="rgb(250,218,25)"/>
<rect x="652.5" y="379.30" width="18.0" height="26.94" fill="rgb(255,180,15)"/>
<rect x="652.5" y="352.66" width="18.0" height="26.94" fill="rgb(255,150,10)"/>
<rect x="652.5" y="326.02" width="18.0" height="26.94" fill="rgb(255,125,10)"/>
<rect x="652.5" y="299.39" width="18.0" height="26.94" fill="rgb(255,90,15)"/>
<rect x="652.5" y="272.75" width="18.0" height="26.94" fill="rgb(235,35,10)"/>
<rect x="652.5" y="246.11" width="18.0" height="26.94" fill="rgb(204,8,8)"/>
<rect x="652.5" y="219.47" width="18.0" height="26.94" fill="rgb(165,5,10)"/>
<rect x="652.5" y="192.84" width="18.0" height="26.94" fill="rgb(124,3,3)"/>
<rect x="652.5" y="166.20" width="18.0" height="26.94" fill="rgb(100,0,0)"/>
<rect x="652.5" y="166.2" width="18.0" height="426.2" fill="none" stroke="#000" stroke-width="1.6"/>
<g stroke="#000" stroke-width="1">
<line x1="670.5" y1="592.40" x2="678.5" y2="592.40"/>
<line x1="670.5" y1="565.76" x2="678.5" y2="565.76"/>
<line x1="670.5" y1="539.12" x2="678.5" y2="539.12"/>
<line x1="670.5" y1="512.49" x2="678.5" y2="512.49"/>
<line x1="670.5" y1="485.85" x2="678.5" y2="485.85"/>
<line x1="670.5" y1="459.21" x2="678.5" y2="459.21"/>
<line x1="670.5" y1="432.57" x2="678.5" y2="432.57"/>
<line x1="670.5" y1="405.94" x2="678.5" y2="405.94"/>
<line x1="670.5" y1="379.30" x2="678.5" y2="379.30"/>
<line x1="670.5" y1="352.66" x2="678.5" y2="352.66"/>
<line x1="670.5" y1="326.02" x2="678.5" y2="326.02"/>
<line x1="670.5" y1="299.39" x2="678.5" y2="299.39"/>
<line x1="670.5" y1="272.75" x2="678.5" y2="272.75"/>
<line x1="670.5" y1="246.11" x2="678.5" y2="246.11"/>
<line x1="670.5" y1="219.47" x2="678.5" y2="219.47"/>
<line x1="670.5" y1="192.84" x2="678.5" y2="192.84"/>
<line x1="670.5" y1="166.20" x2="678.5" y2="166.20"/>
</g>
<g font-family="'Liberation Sans', sans-serif" font-size="10" fill="#111">
<text x="687.5" y="596.00">500</text>
<text x="687.5" y="569.36">520</text>
<text x="687.5" y="542.73">540</text>
<text x="687.5" y="516.09">560</text>
<text x="687.5" y="489.45">580</text>
<text x="687.5" y="462.81">600</text>
<text x="687.5" y="436.18">620</text>
<text x="687.5" y="409.54">640</text>
<text x="687.5" y="382.90">660</text>
<text x="687.5" y="356.26">680</text>
<text x="687.5" y="329.62">700</text>
<text x="687.5" y="302.99">720</text>
<text x="687.5" y="276.35">740</text>
<text x="687.5" y="249.71">760</text>
<text x="687.5" y="223.07">780</text>
<text x="687.5" y="196.44">800</text>
<text x="687.5" y="169.80">820</text>
<text x="645" y="158" font-size="10.5">heures</text>
</g>
<text transform="translate(77.3 586) rotate(-90)" font-family="'Liberation Sans', sans-serif" font-size="10.6" fill="#6e6e6e">Fond de Carte © IGN</text>
<rect x="92.6" y="550" width="29.3" height="29.5" fill="#0a46cd"/>
<rect x="103.4" y="555.2" width="8" height="7.7" rx="0.8" fill="#fff"/><path d="M107.6 556.9 C105.2 556.7 105.2 561.3 107.6 561.1 L107.6 560 C106.5 560 106.5 558 107.6 558 Z" fill="#0a2a7a"/><rect x="108.6" y="556.6" width="0.9" height="4.9" fill="#3a63c8"/>
<g font-family="'Liberation Sans', sans-serif" font-weight="bold" font-size="4.5" fill="#fff" stroke="#fff" stroke-width="0.25"><text x="98.1" y="569.4" textLength="18.4" lengthAdjust="spacingAndGlyphs">METEO</text><text x="97.9" y="574.4" textLength="18.2" lengthAdjust="spacingAndGlyphs">FRANCE</text></g>
</svg>
</body></html>
